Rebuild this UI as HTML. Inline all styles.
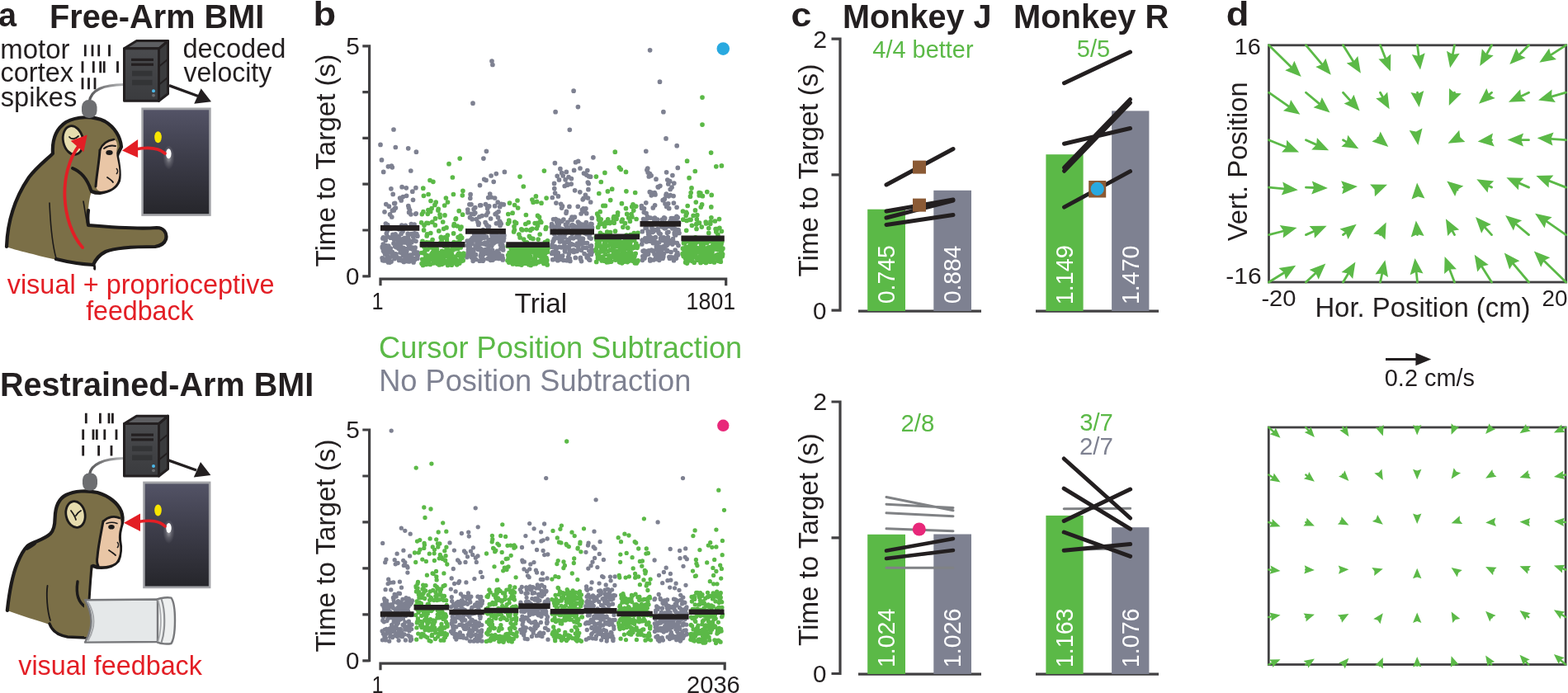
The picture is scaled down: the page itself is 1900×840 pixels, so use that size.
<!DOCTYPE html>
<html><head><meta charset="utf-8"><title>Figure</title>
<style>html,body{margin:0;padding:0;background:#fff;overflow:hidden}svg{display:block}text{font-family:"Liberation Sans",Arial,Helvetica,sans-serif}</style>
</head><body>
<svg width="1900" height="840" viewBox="0 0 1900 840">
<defs>
<linearGradient id="cfront" x1="0" y1="0" x2="0" y2="1"><stop offset="0" stop-color="#4a4b4e"/><stop offset="1" stop-color="#3a3b3e"/></linearGradient>
<linearGradient id="scr" x1="0" y1="0" x2="0" y2="1"><stop offset="0" stop-color="#535366"/><stop offset="0.45" stop-color="#3d3d4a"/><stop offset="1" stop-color="#26262b"/></linearGradient>
<linearGradient id="cable" x1="0" y1="0" x2="1" y2="0"><stop offset="0" stop-color="#59595b"/><stop offset="1" stop-color="#b5b6b8"/></linearGradient>
<radialGradient id="glow" cx="0.5" cy="0.45" r="0.5"><stop offset="0" stop-color="#ffffff" stop-opacity="0.55"/><stop offset="0.5" stop-color="#ffffff" stop-opacity="0.18"/><stop offset="1" stop-color="#ffffff" stop-opacity="0"/></radialGradient>
<linearGradient id="tube" x1="0" y1="0" x2="0" y2="1"><stop offset="0" stop-color="#eceded"/><stop offset="0.5" stop-color="#e4e6e7"/><stop offset="1" stop-color="#d4d6d8"/></linearGradient>
</defs>
<rect width="1900" height="840" fill="#fff"/>
<text x="-2.1" y="32.2" font-size="40" fill="#231f20" font-weight="bold" textLength="22.04" lengthAdjust="spacingAndGlyphs">a</text>
<text x="379.6" y="31.3" font-size="40" fill="#231f20" font-weight="bold" textLength="27.58" lengthAdjust="spacingAndGlyphs">b</text>
<text x="958.5" y="32" font-size="40" fill="#231f20" font-weight="bold" textLength="24.88" lengthAdjust="spacingAndGlyphs">c</text>
<text x="1485.8" y="30.5" font-size="40" fill="#231f20" font-weight="bold" textLength="27.70" lengthAdjust="spacingAndGlyphs">d</text>
<text x="0.3" y="70.7" font-size="33.5" fill="#231f20" textLength="84.18" lengthAdjust="spacingAndGlyphs">motor</text>
<text x="0.5" y="98.9" font-size="33.5" fill="#231f20" textLength="88.47" lengthAdjust="spacingAndGlyphs">cortex</text>
<text x="0.8" y="128.7" font-size="33.5" fill="#231f20" textLength="92.40" lengthAdjust="spacingAndGlyphs">spikes</text>
<text x="221.4" y="70.4" font-size="33" fill="#231f20" textLength="124.99" lengthAdjust="spacingAndGlyphs">decoded</text>
<text x="222.5" y="98.9" font-size="33" fill="#231f20" textLength="106.75" lengthAdjust="spacingAndGlyphs">velocity</text>
<text x="60" y="33.7" font-size="40" fill="#231f20" font-weight="bold" textLength="260.33" lengthAdjust="spacingAndGlyphs">Free-Arm BMI</text>
<path d="M103.3,54.2V68.3M112,54.2V68.3M119.7,54.2V68.3M132.5,54.2V68.3M100,74.2V88.3M113.3,74.2V88.3M121.7,74.2V88.3M126.2,74.2V88.3M142.5,74.2V88.3M100,94.2V108.3M107.5,94.2V108.3M115,94.2V108.3" stroke="#231f20" stroke-width="2.8" fill="none"/>
<path d="M108,124 C110,108 126,103 150,102.5" stroke="url(#cable)" stroke-width="3.2" fill="none"/>
<g transform="translate(150.5,58.8)"><path d="M42,0 L53,-9.3 L53,55.0 L42,63.5 Z" fill="#3a3b3d" stroke="#231f20" stroke-width="3" stroke-linejoin="round"/><path d="M0,0 L15,-9.3 L53,-9.3 L42,0 Z" fill="#5d5e61" stroke="#231f20" stroke-width="3" stroke-linejoin="round"/><rect x="0" y="0" width="42" height="63.5" fill="url(#cfront)" stroke="#231f20" stroke-width="3" stroke-linejoin="round"/><rect x="8.5" y="12" width="27" height="3.2" fill="#231f20"/><rect x="8.5" y="17.8" width="27" height="3.2" fill="#231f20"/><rect x="9.5" y="27" width="24.5" height="6.5" fill="#333436"/><rect x="9.5" y="38" width="24.5" height="6.5" fill="#333436"/><circle cx="35.5" cy="51.5" r="2" fill="#4cb8e8"/><circle cx="35.5" cy="56.8" r="1.9" fill="#6a6b6e"/><path d="M42,22 L53,13 M42,44 L53,35" stroke="#231f20" stroke-width="2"/></g>
<path d="M205,103.7 L240,116.5" stroke="#231f20" stroke-width="3.4"/>
<path d="M256,123.3 L235.2,125.7 L243.6,107.3 Z" fill="#231f20"/>
<rect x="171.3" y="130.5" width="84.4" height="131.4" fill="#a3a4a8"/>
<rect x="173.8" y="133.3" width="79.4" height="125.9" fill="url(#scr)"/>
<ellipse cx="191.5" cy="166.3" rx="4.3" ry="7" fill="#f7e500"/>
<ellipse cx="204.5" cy="192" rx="7" ry="15" fill="url(#glow)"/>
<ellipse cx="204.3" cy="186.3" rx="3.2" ry="6" fill="#ffffff"/>

<g>
<path d="M8,299 C9,270 18,240 35,215 C45,202 56,194 64,186 C63,170 68,156 80,148 C93,141 112,140 127,147 C139,154 146,166 147,178 C145,183 142,186 142,190 C144,200 146,210 144,219 C141,227 133,232 121,234 C116,234 113,233 111,232 C108,240 106,255 107,273 C130,275 165,278 190,276 C198,276 203,282 201,290 C199,296 194,298 188,299 C165,299 140,300 128,305 C120,309 116,314 113,321 C90,319 60,314 40,308 C28,305 15,302 8,299 Z" fill="#7b6f47"/>
<path d="M8,299 C9,270 18,240 35,215 C45,202 56,194 64,186 C63,170 68,156 80,148 C93,141 112,140 127,147 C139,154 146,166 147,178 C145,183 142,186 142,190 C144,200 146,210 144,219 C141,227 133,232 121,234 C116,234 113,233 111,232" fill="none" stroke="#1c1a1a" stroke-width="4.2" stroke-linecap="round" stroke-linejoin="round"/>
<path d="M107,255 C106,262 106,267 107,273 C130,275 165,278 190,276 C198,276 203,282 201,290 C199,296 194,298 188,299 C165,299 140,300 128,305 C120,309 116,314 113,321 C95,320 80,317 68,314" fill="none" stroke="#1c1a1a" stroke-width="4.2" stroke-linecap="round" stroke-linejoin="round"/>
<path d="M121,182 C124,174 131,170 138,169 C141,170 142,173 142,178 C141,183 141,188 142,192 C144,202 146,211 143,219 C140,227 133,231 122,232 C118,231 116,228 116,225 C117,212 120,198 121,182 Z" fill="#e9c6a6"/>
<path d="M121,182 C124,174 131,170 138,169" fill="none" stroke="#1c1a1a" stroke-width="2.6" stroke-linecap="round"/>
<path d="M121,182 C120,198 117,212 116,226" fill="none" stroke="#1c1a1a" stroke-width="3" stroke-linecap="round"/>
<path d="M126,180 C130,177 136,176 140,177" fill="none" stroke="#1c1a1a" stroke-width="2" stroke-linecap="round"/>
<ellipse cx="132.5" cy="185" rx="4.2" ry="3" fill="#1c1a1a"/>
<path d="M141,204 C143,206 143,209 141,211" fill="none" stroke="#1c1a1a" stroke-width="1.6"/>
<path d="M130,215 C133,217 136,219 137,221" fill="none" stroke="#1c1a1a" stroke-width="1.8" stroke-linecap="round"/>
<ellipse cx="88.5" cy="170" rx="12" ry="17.5" transform="rotate(-12 88.5 170)" fill="#e6dcae" stroke="#1c1a1a" stroke-width="2.8"/>
<path d="M84,166 C87,170 92,168 95,165" fill="none" stroke="#1c1a1a" stroke-width="1.8" stroke-linecap="round"/>
<path d="M88,204 C98,208 106,218 110,230" fill="none" stroke="#1c1a1a" stroke-width="4" stroke-linecap="round"/>
<path d="M60,246 C61,270 63,295 68,313" fill="none" stroke="#1c1a1a" stroke-width="1.6" stroke-linecap="round"/>
<path d="M101,244 C103,255 104,265 106,272" fill="none" stroke="#1c1a1a" stroke-width="1.6" stroke-linecap="round"/>
<path d="M114,321 C115,324 115,326 114,327" stroke="#1c1a1a" stroke-width="3" fill="none"/>
</g>

<rect x="99" y="121" width="18.5" height="22" rx="8.5" fill="#6d6e71"/>
<path d="M100,300 C74,270 70,210 96,176" fill="none" stroke="#e31e25" stroke-width="3.8" stroke-linecap="round"/>
<path d="M105.7,163.6 L85.7,170.7 L101.4,184.3 Z" fill="#e31e25"/>
<path d="M200,186 C192,179 180,178 164,181" fill="none" stroke="#e31e25" stroke-width="3.8" stroke-linecap="round"/>
<path d="M148,182.6 L167.1,168.9 L167.1,191 Z" fill="#e31e25"/>
<text x="8.7" y="355.8" font-size="32.5" fill="#e31e25" textLength="323.81" lengthAdjust="spacingAndGlyphs">visual + proprioceptive</text>
<text x="104.2" y="388" font-size="32.5" fill="#e31e25" textLength="130.44" lengthAdjust="spacingAndGlyphs">feedback</text>
<text x="-0.1" y="480" font-size="40" fill="#231f20" font-weight="bold" textLength="380.26" lengthAdjust="spacingAndGlyphs">Restrained-Arm BMI</text>
<path d="M104.3,500.7V513.2M121.4,500.7V513.2M132,500.7V513.2M136.4,500.7V513.2M100.7,520.4V532.9M113,520.4V532.9M117.3,520.4V532.9M126.8,520.4V532.9M141,520.4V532.9M100.7,540V552.5M119.6,540V552.5M135,540V552.5" stroke="#231f20" stroke-width="2.8" fill="none"/>
<path d="M108.5,575 C110,563 125,556 150,555.5" stroke="url(#cable)" stroke-width="3.2" fill="none"/>
<g transform="translate(150.5,513.5)"><path d="M42,0 L53,-9.3 L53,55.0 L42,63.5 Z" fill="#3a3b3d" stroke="#231f20" stroke-width="3" stroke-linejoin="round"/><path d="M0,0 L15,-9.3 L53,-9.3 L42,0 Z" fill="#5d5e61" stroke="#231f20" stroke-width="3" stroke-linejoin="round"/><rect x="0" y="0" width="42" height="63.5" fill="url(#cfront)" stroke="#231f20" stroke-width="3" stroke-linejoin="round"/><rect x="8.5" y="12" width="27" height="3.2" fill="#231f20"/><rect x="8.5" y="17.8" width="27" height="3.2" fill="#231f20"/><rect x="9.5" y="27" width="24.5" height="6.5" fill="#333436"/><rect x="9.5" y="38" width="24.5" height="6.5" fill="#333436"/><circle cx="35.5" cy="51.5" r="2" fill="#4cb8e8"/><circle cx="35.5" cy="56.8" r="1.9" fill="#6a6b6e"/><path d="M42,22 L53,13 M42,44 L53,35" stroke="#231f20" stroke-width="2"/></g>
<path d="M204,557.9 L238,570" stroke="#231f20" stroke-width="3.4"/>
<path d="M255.4,576 L234.8,578.5 L243,560 Z" fill="#231f20"/>
<rect x="173.2" y="583.6" width="82.2" height="129.6" fill="#a3a4a8"/>
<rect x="175.7" y="586.4" width="77.2" height="124.1" fill="url(#scr)"/>
<ellipse cx="191.5" cy="618.5" rx="4.3" ry="7" fill="#f7e500"/>
<ellipse cx="204.5" cy="645.5" rx="7" ry="15" fill="url(#glow)"/>
<ellipse cx="204.5" cy="640" rx="3.2" ry="6" fill="#ffffff"/>

<g>
<path d="M8.8,740 C11,720 14,700 20.8,683.3 C24,675 28,667 33.3,661.7 C37,659 41,657.5 45,656 C52,653 58,650 61,647 C65,643 66.5,637 66.6,628 C67,612 72,604 80,600 C90,595 105,594 118,597 C132,601 143,610 147,620 C149,626 149,630 148,634 C146,640 144,646 145,655 C147,665 146,673 143,680 C138,686 130,688 123,688 C118,688 115,687 113,686 C111,698 110,712 108,728 L105,773 C95,773 80,772 70,768 C64,765 61,760 60,757 C45,752 25,746 8.8,740 Z" fill="#7b6f47"/>
<path d="M8.8,740 C11,720 14,700 20.8,683.3 C24,675 28,667 33.3,661.7 C37,659 41,657.5 45,656 C52,653 58,650 61,647 C65,643 66.5,637 66.6,628 C67,612 72,604 80,600 C90,595 105,594 118,597 C132,601 143,610 147,620 C149,626 149,630 148,634 C146,640 144,646 145,655 C147,665 146,673 143,680 C138,686 130,688 123,688 C118,688 115,687 113,686" fill="none" stroke="#1c1a1a" stroke-width="4.2" stroke-linecap="round" stroke-linejoin="round"/>
<path d="M29,666 C32,661 36,658.5 40,657.5 C43,657 45,657.5 44,659.5 C42,662 38,664 33,667 Z" fill="#1c1a1a"/>
<path d="M111,686 C110,698 109,712 108,728" fill="none" stroke="#1c1a1a" stroke-width="3" stroke-linecap="round"/>
<path d="M60,756 C63,765 70,770 82,772 L104,773" fill="none" stroke="#1c1a1a" stroke-width="3.4" stroke-linecap="round"/>
<path d="M125,632 C123,645 120,660 118,672 C117,679 117,683 119,686 C126,687 134,686 140,682 C145,676 146,668 145,660 C143,652 144,645 146,638 C147,634 147,631 145,628 C139,625 131,626 125,632 Z" fill="#e9c6a6"/>
<path d="M125,632 C131,626 139,625 145,628" fill="none" stroke="#1c1a1a" stroke-width="2.6" stroke-linecap="round"/>
<path d="M125,632 C122,648 119,662 118,675 C117,680 118,684 119,686" fill="none" stroke="#1c1a1a" stroke-width="3" stroke-linecap="round"/>
<ellipse cx="135" cy="638.8" rx="3.8" ry="2.8" fill="#1c1a1a"/>
<path d="M129,634.5 C133,633 138,633 142,634.5" fill="none" stroke="#1c1a1a" stroke-width="1.6" stroke-linecap="round"/>
<path d="M142,657 C144,659 144,662 142,664" fill="none" stroke="#1c1a1a" stroke-width="1.6"/>
<path d="M132,667 C135,669 138,671 140,673" fill="none" stroke="#1c1a1a" stroke-width="1.8" stroke-linecap="round"/>
<ellipse cx="91.5" cy="623.5" rx="11.5" ry="16" transform="rotate(-12 91.5 623.5)" fill="#e6dcae" stroke="#1c1a1a" stroke-width="2.8"/>
<path d="M86,619 C89,623 91,626 92,630 M92,625 C94,622 96,620 98,619" fill="none" stroke="#1c1a1a" stroke-width="1.8" stroke-linecap="round"/>
<path d="M57.5,710 C56,720 57,740 61,752" fill="none" stroke="#1c1a1a" stroke-width="1.8" stroke-linecap="round"/>
<path d="M94,705 C92,718 94,730 104,736" fill="none" stroke="#1c1a1a" stroke-width="3.4" stroke-linecap="round"/>
</g>

<rect x="100" y="573.5" width="18" height="21" rx="8" fill="#6d6e71"/>
<rect x="102" y="729" width="14" height="43" fill="#7b6f47"/>
<path d="M103,727.2 L192,726.5 L192,778 L103,778.6 Q118,753 103,727.2 Z" fill="#e5e8e9" stroke="#77787b" stroke-width="2.4" stroke-linejoin="round"/>
<path d="M106.5,729.5 Q120.5,753 106.5,776.5" fill="none" stroke="#a7a9ac" stroke-width="2"/>
<path d="M191,726.2 C195,724.5 203,723.8 207.5,724.6 C213.5,733 213.5,771 207.5,780 C203,781 195,780.6 191,778.6 Z" fill="#eef0f0" stroke="#77787b" stroke-width="2.4" stroke-linejoin="round"/>
<path d="M195.5,726 C200.5,740 200.5,765 195.5,779" fill="none" stroke="#8e9093" stroke-width="2.2"/>
<path d="M191.5,727 C196,742 196,763 191.5,778" fill="none" stroke="#a7a9ac" stroke-width="1.6"/>
<path d="M200,638 C193,631 183,630 167,632.5" fill="none" stroke="#e31e25" stroke-width="3.6" stroke-linecap="round"/>
<path d="M150,633.7 L170,622.5 L170,644 Z" fill="#e31e25"/>
<text x="22.3" y="817.5" font-size="32.3" fill="#e31e25" textLength="222.60" lengthAdjust="spacingAndGlyphs">visual feedback</text>
<path d="M439.3,55.8H447.6V336.3M439.3,55.8H447.6M439.3,111.6H447.6M439.3,167.4H447.6M439.3,223.2H447.6M439.3,279H447.6M439.3,334.8H447.6" stroke="#414042" stroke-width="3.2" fill="none"/>
<path d="M461,346.2V338.2H879.7V346.2" stroke="#414042" stroke-width="3.2" fill="none"/>
<text x="419.2" y="65.7" font-size="29" fill="#231f20" textLength="16.63" lengthAdjust="spacingAndGlyphs">5</text>
<text x="419" y="345.2" font-size="29" fill="#231f20" textLength="16.45" lengthAdjust="spacingAndGlyphs">0</text>
<text transform="translate(406.2,323.6) rotate(-90)" font-size="33" fill="#231f20" textLength="257.82" lengthAdjust="spacingAndGlyphs">Time to Target (s)</text>
<text x="450.6" y="374.8" font-size="29" fill="#231f20" textLength="14.06" lengthAdjust="spacingAndGlyphs">1</text>
<text x="831.6" y="374.8" font-size="29" fill="#231f20" textLength="59.61" lengthAdjust="spacingAndGlyphs">1801</text>
<text x="623.6" y="378.8" font-size="33" fill="#231f20" textLength="63.61" lengthAdjust="spacingAndGlyphs">Trial</text>
<path d="M463.1 312.8h0M463.3 299.2h0M463.4 300.2h0M463.7 315.6h0M463.9 289h0M464.3 296h0M464.5 304.1h0M464.5 287.9h0M464.8 313.9h0M465 276.1h0M465.2 305h0M465.4 316h0M465.6 303h0M465.8 302.1h0M466 256.8h0M466.4 299.6h0M466.6 307.9h0M466.8 303.4h0M466.8 300.9h0M467.2 291.2h0M467.4 271.2h0M467.6 297.7h0M467.8 247.6h0M468 315.9h0M468.3 283.1h0M468.4 304.5h0M468.6 301.8h0M468.9 316h0M469 309.4h0M469.2 279.9h0M469.5 287h0M469.7 272.5h0M470 287h0M470.1 311.9h0M470.3 301h0M470.5 317.9h0M470.8 298.2h0M471 299.9h0M471.3 316.2h0M471.4 250.2h0M471.5 304h0M471.7 315.9h0M472 312.4h0M472.2 318.1h0M472.3 305.3h0M472.6 259.9h0M472.8 305.8h0M473.2 288.2h0M473.2 301.1h0M473.5 306h0M473.6 276.9h0M473.9 228.8h0M474.1 317.1h0M474.4 201.1h0M474.5 305.2h0M474.8 263h0M475.1 310.2h0M475.3 202.8h0M475.4 255.2h0M475.5 305.6h0M475.8 308.2h0M476 284.4h0M476.2 235.4h0M476.4 311.1h0M476.8 286.4h0M477 295.1h0M477.2 294.8h0M477.3 254.9h0M477.5 290.3h0M477.7 246.6h0M478 284.8h0M478.1 313.6h0M478.3 252.8h0M478.6 246.3h0M478.7 298.8h0M479.1 283.9h0M479.2 285.2h0M479.4 252h0M479.6 307.8h0M479.9 308.9h0M480.1 286.1h0M480.4 297.6h0M480.5 285.8h0M480.6 299.7h0M480.8 311.6h0M481.1 276.5h0M481.3 298.5h0M481.6 298.5h0M481.7 298.4h0M482 290.9h0M482.3 291.3h0M482.4 296.5h0M482.6 293.7h0M482.9 301.3h0M483.1 287.2h0M483.4 298.4h0M483.4 277.8h0M483.6 315.5h0M484 294.5h0M484.2 277.1h0M484.4 313h0M484.6 240h0M484.9 300.9h0M484.9 276.9h0M485.1 306.1h0M485.3 292.7h0M485.5 302.6h0M485.8 296.1h0M486.1 283.4h0M486.2 243h0M486.4 290.7h0M486.7 303.2h0M486.8 273.2h0M487.1 226.7h0M487.3 316h0M487.6 315.5h0M487.6 289.9h0M488 280.4h0M488.2 306.1h0M488.3 238.6h0M488.5 309.7h0M488.7 316.3h0M489 307.3h0M489.1 300.5h0M489.4 317.4h0M489.6 292.3h0M489.9 301.4h0M490 289.3h0M490.2 288.7h0M490.6 293.9h0M490.7 288.8h0M490.9 303.8h0M491 313.5h0M491.3 273.4h0M491.6 288.5h0M491.7 308.1h0M491.9 301.9h0M492.3 308.8h0M492.3 227.8h0M492.6 237.3h0M492.8 304.6h0M493 311h0M493.2 308.8h0M493.3 316.6h0M493.7 309.9h0M493.9 291.7h0M494.1 287.2h0M494.2 283.4h0M494.4 295.4h0M494.8 249.6h0M494.9 289.5h0M495.2 300.3h0M495.4 252h0M495.6 257.4h0M495.7 317h0M496.1 314.4h0M496.2 296h0M496.3 300.9h0M496.6 254.9h0M496.8 294.9h0M497 309.2h0M497.2 292.4h0M497.5 283.8h0M497.7 301.2h0M497.9 259.8h0M498.1 312.9h0M498.3 271.5h0M498.5 315.9h0M498.8 293.7h0M499 299.9h0M499.3 313.9h0M499.5 283.7h0M499.7 301.9h0M499.8 232.2h0M500 284.8h0M500.2 313.1h0M500.5 242.3h0M500.7 286.9h0M500.9 286.5h0M501.1 317.9h0M501.2 307.4h0M501.6 306.9h0M501.8 291.7h0M502 285.5h0M502.1 272.1h0M502.4 282.9h0M502.5 303h0M502.9 314.5h0M502.9 285.2h0M503.1 300.1h0M503.5 284.4h0M503.7 259.3h0M503.9 227.7h0M504 292.3h0M504.2 258.8h0M504.4 285.5h0M504.7 306h0M504.9 283.7h0M505.1 307.5h0M505.3 312.2h0M505.5 286.2h0M505.9 286.2h0M505.9 313.2h0M506.1 306h0M506.4 309h0M565.9 311.7h0M566.2 292h0M566.4 297.5h0M566.6 308.9h0M566.8 254.1h0M567 257.7h0M567.2 306.1h0M567.5 302.6h0M567.6 295.7h0M567.8 301.4h0M568.1 294.2h0M568.3 294.8h0M568.6 300.3h0M568.6 298.5h0M568.9 247.8h0M569.1 297.5h0M569.3 299.5h0M569.5 263.7h0M569.8 240.3h0M569.9 291.3h0M570.1 235.7h0M570.3 303.2h0M570.6 302.5h0M570.7 307.7h0M571 247.8h0M571.2 290h0M571.5 312.1h0M571.6 259.4h0M572 308.9h0M572.1 295.4h0M572.2 265.7h0M572.6 312.3h0M572.7 288.4h0M572.9 308h0M573.2 316.3h0M573.3 308.3h0M573.6 302.3h0M573.9 304.5h0M574.1 281.3h0M574.1 253.7h0M574.3 259.4h0M574.7 285.1h0M574.8 313h0M575 290.8h0M575.3 286.6h0M575.5 287h0M575.8 258.1h0M575.8 251.6h0M576.2 298.9h0M576.3 287.3h0M576.5 308.7h0M576.7 314.5h0M577 300.2h0M577.1 288h0M577.4 265.7h0M577.6 288.7h0M577.7 284.8h0M577.9 295.4h0M578.3 293.9h0M578.5 284.1h0M578.6 286.8h0M578.8 295.8h0M579.1 269.6h0M579.2 291h0M579.5 302.5h0M579.8 272.4h0M579.9 299.8h0M580.2 284.3h0M580.3 270.9h0M580.6 297.1h0M580.8 281.9h0M580.9 262.8h0M581.2 316.2h0M581.5 224.6h0M581.7 248.9h0M581.9 295.8h0M582 294h0M582.3 301.3h0M582.4 310.4h0M582.7 248.8h0M583 289.3h0M583.1 307.9h0M583.3 305.9h0M583.5 285.6h0M583.7 315.1h0M584.1 261.6h0M584.2 315.9h0M584.5 285.5h0M584.5 302.8h0M584.8 309.4h0M585.1 316.2h0M585.2 284.6h0M585.4 278.6h0M585.7 308.4h0M586 314.7h0M586.2 288.2h0M586.4 295.7h0M586.5 285.7h0M586.7 217.3h0M587 295h0M587.2 306.1h0M587.4 288h0M587.6 304.3h0M587.7 294.1h0M588.1 269.7h0M588.2 302.6h0M588.5 247.6h0M588.6 306.8h0M589 218.4h0M589.2 296.4h0M589.3 260.7h0M589.5 287.1h0M589.8 296.6h0M589.8 272.7h0M590.2 302.5h0M590.3 249.8h0M590.7 252.7h0M590.9 307.4h0M591.1 257.5h0M591.2 313.6h0M591.5 275.9h0M591.7 239.6h0M591.8 301.1h0M592.1 291.7h0M592.4 313.5h0M592.5 274.6h0M592.7 249.9h0M592.9 297h0M593.2 310.4h0M593.3 297.8h0M593.5 311.5h0M593.7 235.1h0M593.9 290.5h0M594.2 305h0M594.5 315.3h0M594.6 265h0M594.8 290.7h0M595.1 213h0M595.2 239h0M595.4 310.4h0M595.8 298h0M596 285.2h0M596.1 296.7h0M596.3 284.8h0M596.6 295.3h0M596.7 303.4h0M597.1 284.6h0M597.1 315.1h0M597.5 286.7h0M597.7 281.7h0M597.9 295.1h0M598.1 311.6h0M598.2 220.3h0M598.4 291.4h0M598.6 307.9h0M598.8 310.8h0M599 294.1h0M599.2 310h0M599.6 240h0M599.7 249.7h0M600 313.2h0M600.1 259.6h0M600.4 289.3h0M600.5 311.7h0M600.8 292.9h0M601 287.7h0M601.2 311.3h0M601.4 270.8h0M601.7 305.9h0M601.8 284.2h0M602 258.1h0M602.2 307h0M602.6 304.4h0M602.8 306.9h0M602.9 292.5h0M603.2 245.2h0M603.2 311.8h0M603.5 263.5h0M603.7 286.4h0M603.9 311.8h0M604.1 256.5h0M604.4 313.5h0M604.6 307.4h0M604.9 293.1h0M605 309.7h0M605.3 268h0M605.4 289.7h0M605.7 250.7h0M605.9 286.4h0M606 273.4h0M606.3 269.5h0M606.4 296.8h0M606.8 301.7h0M607 292.9h0M607.2 271.3h0M607.3 291.7h0M607.6 247.3h0M607.8 298.9h0M608 284.5h0M608.2 313h0M608.4 282.3h0M608.6 310h0M608.9 297.4h0M609.2 313h0M609.2 314.9h0M609.5 299.9h0M609.7 303h0M609.9 288h0M610.1 291.8h0M610.3 247.9h0M610.6 288.7h0M610.9 285.4h0M668.2 275h0M668.2 299.2h0M668.6 271.6h0M668.8 307.5h0M669 296.6h0M669.2 273.1h0M669.3 239.5h0M669.7 305.7h0M669.8 314.7h0M670.1 292.7h0M670.1 298.6h0M670.4 299.6h0M670.6 265.8h0M670.8 282.1h0M671.1 291h0M671.4 289.5h0M671.6 222.4h0M671.8 228.5h0M671.9 284h0M672.3 275.7h0M672.4 197.7h0M672.6 234.1h0M672.8 298.8h0M673 313.8h0M673.3 265.7h0M673.4 304.3h0M673.6 309.9h0M673.9 246.1h0M674 301.3h0M674.3 301.3h0M674.6 288.3h0M674.8 269.1h0M675 307.7h0M675.2 213.3h0M675.3 271.9h0M675.6 270.3h0M675.8 315.7h0M676 280.4h0M676.3 306.5h0M676.4 237.9h0M676.7 267h0M677 274.9h0M677.1 309.9h0M677.4 271.5h0M677.5 217.9h0M677.7 283.3h0M677.9 299.4h0M678.2 314.6h0M678.4 291.3h0M678.5 292.9h0M678.9 204.7h0M679.1 285.1h0M679.2 312.1h0M679.4 277.1h0M679.7 247.3h0M679.9 288.1h0M680.2 299.8h0M680.4 280h0M680.6 252.1h0M680.7 209.7h0M680.9 268.1h0M681.2 292.3h0M681.5 249.9h0M681.5 277.7h0M681.7 310h0M682 288.1h0M682.2 213h0M682.6 278.7h0M682.8 315.4h0M682.9 266h0M683.2 299.1h0M683.4 300.1h0M683.5 278.9h0M683.9 296.1h0M684 287.7h0M684.2 225.5h0M684.4 303.9h0M684.6 304.9h0M684.8 283.6h0M685.1 217.8h0M685.4 272.2h0M685.6 277.9h0M685.7 299.7h0M686 258.3h0M686.2 293.4h0M686.4 256.3h0M686.6 276.5h0M686.9 272.1h0M686.9 315.7h0M687.3 223h0M687.3 278.7h0M687.5 281.5h0M687.9 269.3h0M688 224.1h0M688.3 275.8h0M688.4 290.7h0M688.6 311.5h0M689 214.7h0M689.1 291.7h0M689.4 307.7h0M689.6 278.6h0M689.8 298.6h0M689.9 250.4h0M690.1 302.8h0M690.3 313.4h0M690.7 295.8h0M690.9 316.4h0M691.1 288.7h0M691.4 266h0M691.5 296.2h0M691.7 266.5h0M691.9 295.7h0M692.2 223.1h0M692.4 216.6h0M692.5 304.4h0M692.8 273.2h0M693 263h0M693.2 283.4h0M693.3 266.5h0M693.6 272.7h0M693.8 265.3h0M694 278.4h0M694.3 296.5h0M694.5 281.8h0M694.7 288.8h0M695 303.2h0M695.2 279.5h0M695.3 305.5h0M695.6 206.4h0M695.7 274.7h0M696 274.3h0M696.3 274h0M696.4 263.2h0M696.6 230.8h0M696.8 303.9h0M697.1 275.3h0M697.3 312.4h0M697.5 196.7h0M697.8 275.5h0M697.9 281.6h0M698.1 304.6h0M698.3 297.2h0M698.5 287.3h0M698.7 279.7h0M699.1 304.4h0M699.3 283.9h0M699.5 295h0M699.6 297.7h0M699.9 297.9h0M700.1 295.8h0M700.3 250.3h0M700.4 269h0M700.7 195.4h0M700.8 299.8h0M701.2 297.3h0M701.4 270.2h0M701.6 286.2h0M701.8 273.4h0M702 270.7h0M702.3 290.4h0M702.4 278.5h0M702.7 281.7h0M702.8 232.8h0M703.2 312.9h0M703.4 312.4h0M703.6 314.1h0M703.6 291.9h0M704 295.3h0M704.1 259h0M704.5 316.6h0M704.5 303.3h0M704.8 272.4h0M704.9 295.1h0M705.3 272h0M705.4 254.3h0M705.6 289.1h0M705.9 291.6h0M706 275.4h0M706.2 241.8h0M706.5 289.3h0M706.7 300.2h0M707 252.8h0M707.2 240.3h0M707.5 210.1h0M707.6 294.4h0M707.7 272.2h0M708.1 307.6h0M708.2 275.4h0M708.4 281.9h0M708.6 273.4h0M708.8 256.4h0M709.2 276.2h0M709.3 282.8h0M709.4 236.3h0M709.6 280.8h0M709.9 252.8h0M710.2 300.4h0M710.3 269.6h0M710.7 258.7h0M710.7 212.1h0M711 283.7h0M711.2 312.1h0M711.5 294.6h0M711.6 274h0M711.8 206.5h0M712.1 278h0M712.3 221h0M712.5 240h0M712.7 309.7h0M712.9 229.7h0M713.2 222.5h0M713.5 213.8h0M713.6 314.3h0M713.9 304.1h0M714 276.1h0M714.2 287.9h0M714.5 276.1h0M714.7 315.2h0M714.8 283.4h0M715.1 298.6h0M715.2 308.4h0M715.6 214.2h0M715.7 245h0M715.9 271.3h0M716.1 289.1h0M716.4 308.4h0M716.5 297.9h0M716.7 306.4h0M717 271.7h0M717.3 264.4h0M717.5 275.9h0M717.7 305h0M717.8 303.2h0M777.4 249.5h0M777.6 252.3h0M777.8 295.9h0M778.1 291.1h0M778.3 280.7h0M778.5 315.3h0M778.7 291.8h0M778.9 310.5h0M779.1 304.3h0M779.3 313.2h0M779.6 265.7h0M779.8 304.8h0M780.1 269.4h0M780.3 257.3h0M780.3 303.8h0M780.5 252.8h0M780.8 266.4h0M781 312.9h0M781.3 305.7h0M781.6 310.4h0M781.6 307.1h0M781.8 288.8h0M782.1 276.5h0M782.3 289.7h0M782.6 309h0M782.8 245.8h0M783 304.5h0M783.1 258.6h0M783.3 292.9h0M783.6 276h0M783.9 206.1h0M784 265.1h0M784.3 289h0M784.5 262.7h0M784.6 271.3h0M784.8 204h0M785.1 209h0M785.2 280.4h0M785.6 308.1h0M785.7 283.7h0M786 286.2h0M786.1 303.8h0M786.3 214h0M786.7 285.2h0M786.7 304.1h0M787 292.2h0M787.3 232.7h0M787.5 210.6h0M787.7 314.1h0M787.8 316h0M788.2 264.1h0M788.4 288h0M788.5 233.1h0M788.8 303.6h0M789 273.1h0M789.1 212.8h0M789.3 236.8h0M789.5 303h0M789.8 288.3h0M790 276.4h0M790.3 280.2h0M790.5 291h0M790.6 281.5h0M791 293.4h0M791.2 294.6h0M791.3 251.9h0M791.6 280.7h0M791.7 304.8h0M791.9 315h0M792.1 293.9h0M792.4 265.4h0M792.6 278.4h0M792.7 290.6h0M793 308.1h0M793.2 233.6h0M793.4 264.1h0M793.6 248.8h0M793.9 235.4h0M794 236h0M794.3 287.7h0M794.4 313.1h0M794.6 278.9h0M795 302.4h0M795 217.2h0M795.3 298.6h0M795.6 294.1h0M795.7 313.9h0M796 311.9h0M796.3 302.6h0M796.4 298.3h0M796.6 266.1h0M796.9 308.5h0M797 277.7h0M797.2 226.5h0M797.5 306.5h0M797.6 226.9h0M797.9 280.7h0M798.1 306.4h0M798.3 282.3h0M798.6 293.8h0M798.8 315.3h0M799 301h0M799.3 283.3h0M799.4 299.9h0M799.6 308.3h0M799.9 225.3h0M800.1 299.7h0M800.2 283.6h0M800.4 288.9h0M800.6 306.1h0M800.9 288.4h0M801.2 288h0M801.3 313.1h0M801.6 303.1h0M801.7 299.5h0M801.9 274.8h0M802.3 266.2h0M802.4 311.2h0M802.5 301.7h0M802.8 291.5h0M803.1 313.2h0M803.2 242.7h0M803.6 311.8h0M803.7 301.2h0M803.8 311.1h0M804.2 287.9h0M804.4 307.4h0M804.4 298.5h0M804.7 263.8h0M805 276.4h0M805.3 241.2h0M805.4 301.2h0M805.5 276.8h0M805.7 264.5h0M806 247.1h0M806.3 291.3h0M806.4 270.2h0M806.6 276.2h0M806.9 294.1h0M807 236.6h0M807.4 235.2h0M807.6 208.8h0M807.7 250.4h0M807.9 297.6h0M808.2 304.5h0M808.5 282.2h0M808.7 303.6h0M808.8 218h0M809 272.5h0M809.3 296.1h0M809.4 287.5h0M809.7 246.8h0M809.8 223h0M810 281.3h0M810.3 237.8h0M810.6 274.1h0M810.7 252.7h0M810.9 311.5h0M811.1 273.4h0M811.4 313.2h0M811.6 291.7h0M811.7 219.7h0M812 268h0M812.2 229.5h0M812.3 236.7h0M812.6 271.6h0M812.9 294.2h0M813 305.6h0M813.3 264.5h0M813.4 266.9h0M813.8 293.3h0M813.9 311.9h0M814.1 227h0M814.4 276.2h0M814.7 268.7h0M814.8 296.1h0M814.9 212.6h0M815.1 276.9h0M815.5 289.6h0M815.7 264.6h0M815.8 273.5h0M816.1 237.6h0M816.4 246.1h0M816.5 315.7h0M816.8 222.1h0M816.9 265.9h0M817.2 282.4h0M817.3 284h0M817.6 294h0M817.7 311.9h0M818 277.7h0M818.2 303h0M818.5 284h0M818.7 284.9h0M818.9 278h0M819.1 271.1h0M819.3 265.3h0M819.5 313.1h0M819.7 309.2h0M819.9 262.4h0M820.1 251.3h0M820.4 294.5h0M820.5 308.1h0M820.7 306.4h0M821 306.9h0M821.2 263.7h0M821.3 203.4h0M821.5 309h0M821.9 278.6h0M822 297.6h0M822.2 279.2h0M822.5 269.7h0M822.7 270.5h0M823 282.5h0M477 157h0M461 175.4h0M462.5 193.9h0M470.4 201.8h0M479.3 178.5h0M494.7 179.8h0M504.4 184.2h0M497.8 207h0M464.7 208.4h0M573 125.2h0M596 74h0M596.9 78.5h0M589.4 183.3h0M585.9 192.1h0M601.3 210.6h0M611.4 208.4h0M673.1 135.7h0M695.1 110.2h0M700.4 129.6h0M690.3 157.3h0M718.9 190.8h0M703 204h0M686.3 208.4h0M787.6 60.8h0M799.5 99.2h0M803.9 135.7h0M807 167.9h0M782.8 183.3h0M820.2 176.7h0" stroke="#7e8191" stroke-width="5.7" stroke-linecap="round" fill="none"/>
<path d="M510.6 269.9h0M510.8 306.5h0M511 319.6h0M511.3 259.6h0M511.4 296.9h0M511.7 314.3h0M512 294.3h0M512 292.3h0M512.3 295.9h0M512.5 321.4h0M512.8 228.2h0M512.9 256.7h0M513.2 306.5h0M513.4 237.3h0M513.6 278.9h0M513.8 299.1h0M514 273.1h0M514.3 314.2h0M514.4 318.2h0M514.7 304.8h0M514.8 304.3h0M515.2 308.3h0M515.3 296.3h0M515.7 314.4h0M515.7 312.7h0M516 302.2h0M516.3 302.4h0M516.4 320.4h0M516.6 302h0M516.9 270.3h0M517 293.8h0M517.2 285.9h0M517.6 283.9h0M517.7 316.1h0M518 302.5h0M518.1 310.2h0M518.3 259.3h0M518.7 310.2h0M518.9 270.5h0M518.9 254.5h0M519.1 235.5h0M519.4 310.6h0M519.6 316.6h0M520 311.4h0M520 294h0M520.4 298h0M520.5 320h0M520.7 295.2h0M520.9 295.9h0M521.2 298.3h0M521.3 320.4h0M521.7 256.5h0M521.8 282.5h0M522 243.5h0M522.2 312.4h0M522.6 299.9h0M522.6 294.6h0M523 307.9h0M523.1 252.7h0M523.4 307.4h0M523.6 298.6h0M523.8 269.2h0M523.9 312.3h0M524.1 290.5h0M524.3 314.4h0M524.6 305.7h0M524.9 220.3h0M525 319h0M525.3 301.2h0M525.5 309.5h0M525.8 300.1h0M526 318h0M526.1 305.3h0M526.3 315.7h0M526.6 317h0M526.8 312.1h0M526.9 248.4h0M527.3 272.9h0M527.5 307.9h0M527.5 264.9h0M527.8 318h0M528.2 245.2h0M528.3 296.8h0M528.6 299.3h0M528.7 304.4h0M528.9 310.9h0M529.2 314.2h0M529.3 315.6h0M529.5 302.1h0M529.9 315.6h0M529.9 319.6h0M530.3 305.8h0M530.5 316.7h0M530.6 313.3h0M530.9 254.9h0M531.2 309.6h0M531.2 253.4h0M531.4 315.6h0M531.8 279.9h0M531.9 296.3h0M532.2 321h0M532.3 295.5h0M532.6 310.9h0M532.8 313.3h0M533 260h0M533.2 263.3h0M533.6 294.6h0M533.8 319.9h0M533.9 295.7h0M534.2 288h0M534.4 309.9h0M534.5 287.3h0M534.7 306.7h0M535 314.4h0M535.2 291.7h0M535.5 320.3h0M535.6 304.3h0M535.8 312.7h0M536.1 309.3h0M536.2 308.9h0M536.4 307.5h0M536.7 269h0M536.8 307.9h0M537 309.2h0M537.2 306.9h0M537.6 319.1h0M537.7 277.3h0M538.1 310.7h0M538.3 297h0M538.3 298.2h0M538.7 249h0M538.9 287.9h0M539 260.9h0M539.4 316.9h0M539.4 298.2h0M539.6 295.2h0M539.9 307h0M540.1 316.2h0M540.4 240h0M540.5 299.1h0M540.8 303.3h0M541 275.9h0M541.3 289.7h0M541.5 310.2h0M541.7 293.2h0M541.8 299.6h0M542 300.2h0M542.3 285.2h0M542.5 245h0M542.6 321.4h0M542.9 303.9h0M543.1 295.9h0M543.3 302.8h0M543.5 311.3h0M543.8 315h0M544 315.6h0M544.3 317.6h0M544.4 317.2h0M544.7 296.6h0M544.8 313.9h0M545.1 305.4h0M545.4 308.8h0M545.6 314.3h0M545.7 306.3h0M546 319.7h0M546.3 305.7h0M546.4 315.7h0M546.7 303.2h0M546.8 312.6h0M547.1 296.1h0M547.3 321.2h0M547.5 308.2h0M547.6 315h0M547.9 320.3h0M548.2 301.6h0M548.3 313.8h0M548.5 299h0M548.9 303.1h0M548.9 296.4h0M549.2 314.7h0M549.4 235.5h0M549.6 282.9h0M549.9 273.6h0M550 293.5h0M550.3 271.5h0M550.5 300.8h0M550.7 315.4h0M550.8 295.5h0M551.2 318.4h0M551.2 317.4h0M551.6 301.7h0M551.7 300.4h0M552.1 311.1h0M552.1 265.6h0M552.5 264.9h0M552.6 315.6h0M552.9 297.3h0M553.1 297.9h0M553.2 318.6h0M553.5 315.6h0M553.7 320.8h0M553.9 301h0M554.1 294h0M554.3 274h0M554.6 309h0M554.8 301.4h0M554.9 296.9h0M555.1 287.7h0M555.5 299.7h0M555.7 307.4h0M555.9 287.3h0M556 297.7h0M556.2 255.7h0M556.4 307.2h0M556.8 319.1h0M557 299h0M557.1 310h0M557.5 290.3h0M557.5 315.5h0M557.8 277.6h0M558 285.8h0M558.3 299.9h0M558.4 311.5h0M558.7 297.4h0M558.9 316.6h0M559 275.2h0M559.3 296.2h0M559.6 312.8h0M559.7 288.2h0M560 312.1h0M560.1 312.1h0M560.3 236.8h0M560.6 260.2h0M560.9 231.3h0M561.1 315.8h0M561.2 315.5h0M561.5 310.1h0M561.7 307.2h0M615 315.8h0M615.3 298.4h0M615.5 271.1h0M615.7 309.3h0M615.8 259.5h0M616.1 312.9h0M616.3 311.3h0M616.6 318.1h0M616.8 267.1h0M617 268.9h0M617.1 306.4h0M617.4 315h0M617.5 246.1h0M617.9 311.2h0M618 314.3h0M618.3 307.5h0M618.4 315.1h0M618.6 317.9h0M618.8 314.5h0M619 315.7h0M619.3 301.7h0M619.4 306.2h0M619.7 310.6h0M619.9 310.4h0M620.2 316.2h0M620.3 307.7h0M620.5 301.2h0M620.8 309.9h0M621.1 258.2h0M621.3 319.8h0M621.4 320h0M621.6 304.2h0M621.9 298.9h0M622.1 313.5h0M622.4 307h0M622.6 280.9h0M622.7 303.6h0M623 274.6h0M623 301h0M623.4 278.7h0M623.6 248.5h0M623.8 269.2h0M624 310.8h0M624.2 314.5h0M624.4 312.4h0M624.7 270h0M624.8 317.1h0M625.1 307.9h0M625.3 299.8h0M625.6 270.4h0M625.8 311.4h0M626 320.3h0M626.2 299.8h0M626.4 298h0M626.6 305.3h0M626.8 307.5h0M627 243h0M627.2 312.6h0M627.5 308h0M627.6 252h0M627.8 298.1h0M628 302.3h0M628.4 298.5h0M628.6 318.8h0M628.8 302.2h0M628.9 284.1h0M629.2 309.4h0M629.4 317.1h0M629.7 313.1h0M629.8 320.4h0M630.1 287.9h0M630.3 314.3h0M630.4 305.8h0M630.6 308.4h0M631 309h0M631 311.8h0M631.2 303.6h0M631.5 317.4h0M631.8 277.8h0M632 321.1h0M632.1 304.6h0M632.3 315.2h0M632.6 278.8h0M632.7 312.4h0M633.1 278.8h0M633.2 306.9h0M633.5 299.6h0M633.7 300.3h0M634 307.3h0M634 299.2h0M634.2 304.6h0M634.5 300.9h0M634.7 290h0M635 317h0M635.1 308.2h0M635.4 312.4h0M635.7 318.5h0M635.7 315.7h0M635.9 315.8h0M636.2 313.4h0M636.4 319.2h0M636.7 293.8h0M636.8 271.5h0M637.1 304.5h0M637.4 260.5h0M637.5 316.1h0M637.7 304.9h0M637.9 278.6h0M638.1 307.2h0M638.4 293.9h0M638.7 315.1h0M638.8 306h0M638.9 312.3h0M639.2 301.5h0M639.5 318.9h0M639.6 309.7h0M639.8 314.1h0M640 304.6h0M640.4 300.1h0M640.4 269.6h0M640.8 320.7h0M640.9 313.2h0M641.1 305h0M641.4 286.4h0M641.7 318.7h0M641.7 304.7h0M642 317.6h0M642.1 312.5h0M642.4 306.4h0M642.7 279.2h0M642.9 311.2h0M643.2 321.4h0M643.2 288.5h0M643.4 278h0M643.8 318.8h0M644 300h0M644.1 305.1h0M644.3 302h0M644.6 299.2h0M644.9 242.1h0M645 277.3h0M645.2 305h0M645.4 299.7h0M645.7 296.5h0M645.9 289.4h0M646.1 245.2h0M646.3 320h0M646.5 316.7h0M646.8 304.8h0M647 315.7h0M647.1 299.5h0M647.3 300.7h0M647.7 313.6h0M647.7 303.6h0M648 307.4h0M648.2 270.6h0M648.4 313h0M648.6 314.8h0M648.8 310.9h0M649.1 310.4h0M649.2 319.7h0M649.4 237.9h0M649.8 298.4h0M649.9 310h0M650.1 308.7h0M650.4 276.8h0M650.5 244.4h0M650.7 318.2h0M651 270.3h0M651.3 306.5h0M651.5 261.4h0M651.6 273.5h0M651.8 302.1h0M652.1 308.5h0M652.2 290.1h0M652.6 306.7h0M652.8 300.2h0M652.9 309.7h0M653.1 307.8h0M653.4 317.6h0M653.5 263.2h0M653.9 316.9h0M654.1 301.7h0M654.2 284h0M654.4 309.3h0M654.7 311.1h0M654.8 268.2h0M655.1 311h0M655.2 316.8h0M655.6 310.6h0M655.8 269.5h0M656 246.2h0M656.2 305.6h0M656.5 308h0M656.6 306.2h0M656.7 300.7h0M657 305.5h0M657.2 305.9h0M657.5 311.6h0M657.6 312.1h0M657.9 300.6h0M658.1 301.2h0M658.3 309h0M658.5 308.4h0M658.7 318.8h0M658.9 319.5h0M659.3 311.1h0M659.4 304.7h0M659.7 298.2h0M659.8 302h0M660 298.9h0M660.3 293.5h0M660.4 315.9h0M660.6 307.5h0M660.9 304.8h0M661.2 277.5h0M661.4 299.9h0M661.5 303.9h0M661.8 275.6h0M662 312.7h0M662.1 240.1h0M662.4 319.1h0M662.7 294.3h0M662.8 315.4h0M663.1 301.8h0M663.2 320.9h0M663.5 291.9h0M663.7 305.3h0M663.9 300.9h0M722.1 304.1h0M722.3 287.6h0M722.6 301.9h0M722.7 317.4h0M722.9 290.7h0M723.3 299.1h0M723.4 295.7h0M723.7 259.2h0M723.7 307.4h0M724.1 297.9h0M724.2 309.2h0M724.4 312.8h0M724.7 275.4h0M725 262.3h0M725.2 313.4h0M725.3 266h0M725.5 309h0M725.8 234.5h0M726.1 295.1h0M726.3 267.3h0M726.4 272h0M726.7 266.1h0M726.9 291.3h0M727.2 256.7h0M727.4 282.4h0M727.5 313.4h0M727.8 304.9h0M727.9 298.6h0M728.2 265.8h0M728.3 220.5h0M728.6 300.2h0M728.9 301.9h0M729 290h0M729.3 316h0M729.4 301.6h0M729.6 313h0M729.8 271.2h0M730.1 311.3h0M730.4 300h0M730.4 299.4h0M730.7 284.5h0M730.9 249.4h0M731.2 271.4h0M731.5 304.7h0M731.5 290.5h0M731.8 285.2h0M732.1 314.1h0M732.2 295.7h0M732.5 316.2h0M732.6 274.4h0M732.9 209.4h0M733.1 301.1h0M733.4 249.4h0M733.5 308.3h0M733.7 292.9h0M733.9 290.9h0M734.2 269.2h0M734.5 297.4h0M734.5 297.4h0M734.9 315.2h0M735.1 285.7h0M735.2 317.8h0M735.4 270.5h0M735.7 281.2h0M735.9 290.8h0M736.1 269.4h0M736.4 231.9h0M736.6 314.5h0M736.7 265.8h0M737.1 304.2h0M737.1 297.8h0M737.4 317.6h0M737.7 291.1h0M737.9 310.2h0M738 309.9h0M738.3 311.6h0M738.4 291.2h0M738.7 292.8h0M739 270.6h0M739.2 314.8h0M739.4 303h0M739.5 281.7h0M739.7 242.6h0M740.1 311.6h0M740.2 295.2h0M740.4 291.9h0M740.7 317.1h0M740.8 269.4h0M741 286.7h0M741.3 291.1h0M741.5 296.7h0M741.7 229.2h0M741.9 295.8h0M742.2 293.9h0M742.5 299.8h0M742.5 309.3h0M742.9 304.6h0M743 302.4h0M743.3 311.2h0M743.4 264.4h0M743.7 297.3h0M743.9 262.6h0M744.2 270.2h0M744.4 298.7h0M744.4 311.2h0M744.7 295.3h0M744.9 312.7h0M745.2 290.9h0M745.3 298.9h0M745.5 280.2h0M745.8 315.1h0M746 306.2h0M746.3 288.9h0M746.5 312.7h0M746.7 309.6h0M746.8 296.2h0M747.1 265.3h0M747.2 296.6h0M747.4 306.9h0M747.8 298.2h0M748 304.3h0M748.3 294h0M748.4 260.7h0M748.6 257.8h0M748.9 306h0M749 306h0M749.2 307.5h0M749.5 297.8h0M749.7 313.4h0M749.9 311.5h0M750.2 290.9h0M750.4 203.1h0M750.5 317.4h0M750.8 294.1h0M751 311.5h0M751.3 300.8h0M751.4 317.9h0M751.7 293.1h0M751.8 316.2h0M752.1 296.6h0M752.3 205.3h0M752.4 295.3h0M752.7 302.8h0M752.8 311.9h0M753.2 268.4h0M753.4 246.7h0M753.7 295.6h0M753.7 318.8h0M753.9 308.2h0M754.2 266h0M754.4 293.4h0M754.7 309.8h0M754.9 275.3h0M755.2 312.1h0M755.3 316.2h0M755.5 313.4h0M755.8 300.7h0M756 317.2h0M756.1 305.5h0M756.3 298.5h0M756.6 299.1h0M756.8 292.8h0M757.1 312.3h0M757.3 307.8h0M757.5 270.7h0M757.8 316.5h0M757.8 289h0M758 292.2h0M758.3 292.2h0M758.5 252.7h0M758.7 297.2h0M758.9 231.8h0M759.2 285.2h0M759.5 296.3h0M759.7 259.4h0M759.8 295.3h0M760.1 301.9h0M760.3 317.6h0M760.4 307.7h0M760.8 289.4h0M760.8 276.1h0M761.1 313.2h0M761.3 290.8h0M761.6 316.4h0M761.7 264.1h0M762 310.4h0M762.3 301.6h0M762.3 289.9h0M762.7 299.1h0M762.8 306h0M763.2 300.4h0M763.4 296.1h0M763.4 268.2h0M763.7 294.5h0M764 284.6h0M764.1 298.7h0M764.3 309.1h0M764.7 306.3h0M764.8 292.1h0M765.1 259.6h0M765.2 311.9h0M765.5 312.5h0M765.7 250.6h0M765.9 262.9h0M766.1 316.1h0M766.3 301h0M766.4 291.2h0M766.7 300.3h0M767 247.8h0M767.1 291.1h0M767.5 310.8h0M767.6 311.6h0M767.8 255.1h0M768.1 299.1h0M768.2 282.5h0M768.4 299.1h0M768.7 291.2h0M768.9 300.1h0M769 310.4h0M769.3 318.8h0M769.5 315.9h0M769.7 233.5h0M769.9 284.7h0M770.2 307.3h0M770.3 298h0M770.7 250.1h0M770.8 295.1h0M771.1 265.5h0M771.2 318.9h0M771.5 285.3h0M771.6 300h0M772 316.4h0M772.1 300.3h0M772.2 317.3h0M772.6 286.2h0M772.7 298.2h0M772.9 282.4h0M773.1 315.9h0M827.1 307.7h0M827.4 301.2h0M827.5 256h0M827.8 266.2h0M828.1 310.2h0M828.1 308.5h0M828.5 294.7h0M828.6 310.7h0M828.9 309.6h0M829.1 304.9h0M829.2 306.4h0M829.5 302.7h0M829.7 309.4h0M829.9 294.3h0M830.2 310.5h0M830.2 300.5h0M830.6 318.1h0M830.7 313.4h0M831 299.3h0M831.2 261.2h0M831.5 257.4h0M831.7 314.4h0M831.7 279.3h0M832.1 267.4h0M832.2 258.6h0M832.5 319.1h0M832.6 316.6h0M832.9 302.7h0M833.2 249.5h0M833.3 308.8h0M833.7 292.5h0M833.7 314.8h0M834 309.9h0M834.2 304.9h0M834.5 307.5h0M834.7 307.1h0M834.8 310.3h0M835.1 215.7h0M835.2 315.8h0M835.4 300.5h0M835.7 266.4h0M835.9 297.5h0M836.2 303.8h0M836.4 293h0M836.5 238.2h0M836.9 312.2h0M837.1 266.3h0M837.2 233.5h0M837.4 312.4h0M837.6 295.8h0M837.8 294h0M838 227.9h0M838.4 273.3h0M838.6 307.8h0M838.6 298.1h0M839 316.6h0M839.1 299.5h0M839.3 301.6h0M839.5 299.6h0M839.8 312h0M840.1 261.3h0M840.3 303.8h0M840.5 307h0M840.6 293.2h0M840.8 298.8h0M841.2 318.2h0M841.2 299.1h0M841.5 309.2h0M841.7 290.8h0M842 296h0M842.1 306.8h0M842.3 299.4h0M842.5 254.9h0M842.7 287.9h0M842.9 310.4h0M843.3 245.1h0M843.4 294.3h0M843.8 272h0M843.9 271.4h0M844 277.5h0M844.3 265.8h0M844.5 313.3h0M844.8 260.7h0M845 300.7h0M845.1 315.1h0M845.3 306h0M845.6 304.3h0M845.9 315.2h0M846.1 293h0M846.3 303.5h0M846.4 304.5h0M846.6 314h0M846.9 302.2h0M847.1 233.7h0M847.3 237h0M847.5 270.2h0M847.8 311.4h0M847.9 292.6h0M848.1 304.3h0M848.5 316.4h0M848.7 300.6h0M848.9 234.2h0M849 318.4h0M849.3 251.1h0M849.5 308.1h0M849.6 296.7h0M850 314.7h0M850.1 293.7h0M850.3 275.1h0M850.6 247.9h0M850.9 296.6h0M850.9 298.9h0M851.2 309.6h0M851.4 237.7h0M851.6 299.5h0M851.8 294.6h0M852 315.3h0M852.2 297.4h0M852.5 303.7h0M852.6 304.6h0M852.8 307.9h0M853.2 313h0M853.3 317.2h0M853.6 310.4h0M853.8 301h0M854.1 305.7h0M854.1 314.7h0M854.3 310.5h0M854.6 307.9h0M854.8 293.6h0M855 311.2h0M855.2 269h0M855.4 318.5h0M855.6 270.9h0M855.9 318.1h0M856.2 316.9h0M856.3 305.5h0M856.6 307.6h0M856.7 294.6h0M856.9 308.6h0M857.3 300.6h0M857.4 312.3h0M857.7 308.6h0M857.7 315.4h0M858.1 292.1h0M858.3 305.7h0M858.5 301h0M858.8 282.4h0M858.8 276.5h0M859.2 316.2h0M859.4 303.6h0M859.6 299.8h0M859.7 310.7h0M860 299.6h0M860.2 309.5h0M860.4 292.4h0M860.7 317.2h0M860.8 271.2h0M861 268.6h0M861.2 301h0M861.6 309.9h0M861.8 250.9h0M861.9 263.8h0M862.2 236.4h0M862.4 314.3h0M862.5 310.3h0M862.7 303.3h0M863 305.7h0M863.1 301.2h0M863.5 312h0M863.6 297.9h0M863.9 293.9h0M864.1 311.6h0M864.3 296.9h0M864.5 313.8h0M864.7 311.2h0M864.9 299.3h0M865.2 297.8h0M865.4 302h0M865.5 318h0M865.8 292.9h0M866.1 292.8h0M866.1 310.3h0M866.4 268h0M866.6 312.2h0M866.9 294.8h0M867.1 277.6h0M867.2 292.6h0M867.6 311.9h0M867.8 281.1h0M867.9 278h0M868.1 279.7h0M868.3 277.6h0M868.5 312.6h0M868.7 309.2h0M869 298.5h0M869.2 302.3h0M869.5 300.9h0M869.7 314.1h0M869.9 284.3h0M870 310.8h0M870.3 301.8h0M870.5 316.3h0M870.7 308.1h0M871.1 288.1h0M871.1 295.8h0M871.3 309.2h0M871.5 265.6h0M871.9 276.3h0M872 309.1h0M872.3 298h0M872.5 308.9h0M872.7 312.5h0M872.8 292h0M873 313.8h0M873.3 317.2h0M873.5 305.6h0M873.8 305.3h0M874 305.5h0M874.1 295.7h0M874.4 280.3h0M874.6 304h0M874.8 293.1h0M875 301.4h0M875.3 310.6h0M875.6 308.1h0M875.6 308.5h0M875.9 301.2h0M521 218.5h0M544 198.7h0M557.2 192.1h0M548.4 215h0M630 214.1h0M659.4 207.1h0M634.3 226h0M745.3 184.2h0M722.4 214.1h0M758.5 208.4h0M851 118.1h0M851 151.1h0M861.6 185.1h0M867.8 201.8h0M874.4 200.9h0M832.6 195.2h0M842.3 207.5h0M856.8 232.6h0" stroke="#5bb947" stroke-width="5.7" stroke-linecap="round" fill="none"/>
<path d="M461,276.4H508.3M508.7,296.4H563.6M564,280.4H612.9M613.3,296.6H665.9M666.5,281H720M720.3,286.8H775M775.5,271.4H825M825.4,289H877.8" stroke="#231f20" stroke-width="6.8" fill="none"/>
<circle cx="876.3" cy="59.1" r="7.8" fill="#29a9e0"/>
<text x="459.1" y="433.7" font-size="36" fill="#5bb947" textLength="440.06" lengthAdjust="spacingAndGlyphs">Cursor Position Subtraction</text>
<text x="459.2" y="474.4" font-size="36" fill="#7e8191" textLength="378.16" lengthAdjust="spacingAndGlyphs">No Position Subtraction</text>
<path d="M439.3,521H447.6V802.3M439.3,521H447.6M439.3,577H447.6M439.3,632.9H447.6M439.3,688.9H447.6M439.3,744.8H447.6M439.3,800.8H447.6" stroke="#414042" stroke-width="3.2" fill="none"/>
<path d="M461,812.2V804.2H878.2V812.2" stroke="#414042" stroke-width="3.2" fill="none"/>
<text x="419.2" y="530.9" font-size="29" fill="#231f20" textLength="16.63" lengthAdjust="spacingAndGlyphs">5</text>
<text x="419" y="811.2" font-size="29" fill="#231f20" textLength="16.45" lengthAdjust="spacingAndGlyphs">0</text>
<text transform="translate(406.2,790.4) rotate(-90)" font-size="33" fill="#231f20" textLength="257.82" lengthAdjust="spacingAndGlyphs">Time to Target (s)</text>
<text x="450.6" y="839.7" font-size="29" fill="#231f20" textLength="14.06" lengthAdjust="spacingAndGlyphs">1</text>
<text x="832.1" y="839.7" font-size="29" fill="#231f20" textLength="64.71" lengthAdjust="spacingAndGlyphs">2036</text>
<path d="M463.1 764.9h0M463.3 733.1h0M463.4 775.8h0M463.7 658.4h0M463.8 752.2h0M464.1 743h0M464.1 743h0M464.4 768.2h0M464.5 748h0M464.7 744.5h0M465 741.2h0M465.1 735.8h0M465.4 753.8h0M465.5 737.3h0M465.7 725.7h0M465.9 771.6h0M466.1 727.6h0M466.3 763.1h0M466.4 733.3h0M466.6 730h0M466.8 740.7h0M467.1 714.7h0M467.1 775.9h0M467.4 773.5h0M467.5 768.8h0M467.8 728.4h0M467.9 678.2h0M468.2 762.4h0M468.2 738.4h0M468.5 728.1h0M468.6 731.5h0M468.9 752.6h0M469.1 766.8h0M469.3 737.7h0M469.4 740.3h0M469.7 765.7h0M469.8 750.2h0M470 737.2h0M470.1 707.6h0M470.3 738.4h0M470.4 749.4h0M470.7 702.2h0M470.9 766.8h0M471 734.1h0M471.2 743.5h0M471.4 746.5h0M471.7 777.2h0M471.8 733.1h0M471.9 744h0M472.2 761.8h0M472.4 741.2h0M472.6 741.5h0M472.7 771.9h0M472.9 769.4h0M473 706.1h0M473.2 746.6h0M473.5 748.7h0M473.6 732.8h0M473.8 714.9h0M474 747h0M474.2 735.8h0M474.4 765.2h0M474.6 757.5h0M474.8 743.1h0M475 748h0M475.2 732.7h0M475.2 764.1h0M475.5 772.7h0M475.7 761.3h0M475.9 735.4h0M476 765.4h0M476.3 771.5h0M476.4 724.4h0M476.6 737.1h0M476.8 705.9h0M477 726.9h0M477.2 754.1h0M477.3 752h0M477.5 729.9h0M477.7 747.5h0M477.9 764.3h0M478.1 720.4h0M478.2 678.7h0M478.5 743.7h0M478.6 770.3h0M478.8 738.6h0M479.1 742.4h0M479.2 753.8h0M479.3 759.4h0M479.6 762h0M479.8 748.3h0M479.9 738.4h0M480.2 723h0M480.3 767.7h0M480.4 755.2h0M480.8 761.3h0M480.8 754.2h0M481.1 671.2h0M481.3 756.4h0M481.4 771.5h0M481.6 730.8h0M481.8 736.7h0M482 749.7h0M482.1 682.5h0M482.3 755.2h0M482.5 728.6h0M482.7 739.5h0M482.9 719.1h0M483.1 776.3h0M483.2 752.1h0M483.4 765.5h0M483.7 767h0M483.8 733.6h0M484.1 764.5h0M484.1 737.8h0M484.4 705.2h0M484.5 719.5h0M484.8 746.1h0M484.9 750.9h0M485.2 762.3h0M485.4 762.7h0M485.5 734.7h0M485.7 771.2h0M485.9 739h0M486 729.8h0M486.3 640.2h0M486.5 712.2h0M486.7 766.5h0M486.8 734.3h0M486.9 731.4h0M487.1 744.5h0M487.3 739.4h0M487.5 771.7h0M487.7 740.8h0M487.9 726.3h0M488.1 757.4h0M488.3 742.7h0M488.4 749.9h0M488.7 679.3h0M488.9 667.2h0M489.1 737.8h0M489.3 685.4h0M489.4 735.4h0M489.6 757.7h0M489.8 732.4h0M490 769h0M490.1 759.4h0M490.3 739.2h0M490.6 759.8h0M490.7 763.1h0M490.9 754.1h0M491 731.5h0M491.2 726.2h0M491.4 776h0M491.6 746.4h0M491.9 762.1h0M492.1 724.7h0M492.1 732.2h0M492.4 734.3h0M492.5 734.1h0M492.7 763.2h0M492.9 739.6h0M493.1 743.9h0M493.3 686.4h0M493.5 728h0M493.7 759.6h0M493.9 694.1h0M494 688h0M494.2 736.9h0M494.5 744.4h0M494.7 741h0M494.8 770.1h0M495.1 726.8h0M495.2 735.1h0M495.3 725.6h0M495.4 753.2h0M495.8 755.4h0M495.9 732.1h0M496 764.7h0M496.3 756.3h0M496.5 760.1h0M496.6 673.9h0M496.7 772.3h0M497 732.8h0M497.2 647.2h0M497.3 776.6h0M497.5 744.3h0M497.7 757.3h0M498 771.9h0M498 745.5h0M498.4 731h0M498.6 774.9h0M498.7 762.6h0M498.8 729.7h0M499 757.2h0M499.2 744.5h0M499.4 727.9h0M546.3 714.1h0M546.5 765.6h0M546.7 735.6h0M547 755.6h0M547.2 701h0M547.3 723.7h0M547.5 756.4h0M547.7 728.7h0M547.9 752h0M548 767.6h0M548.2 747.5h0M548.4 753.5h0M548.7 765.7h0M548.8 759.4h0M549 761.9h0M549.2 734.1h0M549.3 689.5h0M549.5 768.3h0M549.7 732.2h0M550 764h0M550 758.6h0M550.4 667.1h0M550.4 741.5h0M550.6 707.5h0M550.9 733.1h0M551 739.9h0M551.3 772.5h0M551.4 743.7h0M551.7 753.4h0M551.8 768.3h0M551.9 749.3h0M552.1 716.9h0M552.3 749.1h0M552.6 737.4h0M552.8 775h0M552.8 759.9h0M553 734.4h0M553.3 730.6h0M553.5 739.7h0M553.7 768.8h0M553.8 770h0M554 770.3h0M554.2 747h0M554.3 772.5h0M554.6 678.9h0M554.8 747.9h0M554.9 770.8h0M555.1 729.3h0M555.2 747.8h0M555.5 733.7h0M555.6 706.5h0M555.8 739.3h0M556.1 768.9h0M556.2 732.8h0M556.5 749.1h0M556.6 704.7h0M556.8 730.1h0M556.9 757.4h0M557.1 682.1h0M557.4 766.6h0M557.5 732.9h0M557.7 747.7h0M558 772.4h0M558.1 769.7h0M558.3 733.1h0M558.4 719.9h0M558.6 734.6h0M558.8 735h0M559.1 727.9h0M559.2 751h0M559.4 646.5h0M559.6 737.2h0M559.8 757.3h0M559.9 752.6h0M560.2 748.3h0M560.3 728.1h0M560.4 730.7h0M560.7 738.1h0M560.9 722.8h0M561 770.5h0M561.2 759.6h0M561.5 773h0M561.6 746.7h0M561.8 744.2h0M561.9 732h0M562.1 758.3h0M562.4 723.2h0M562.5 667.9h0M562.6 762.3h0M562.9 760.8h0M563.1 744.5h0M563.3 739.5h0M563.4 751.9h0M563.7 751.7h0M563.9 730.1h0M564 681.4h0M564.2 762.4h0M564.3 670.1h0M564.6 758.1h0M564.7 731h0M564.9 705.9h0M565.1 724.3h0M565.3 773.8h0M565.6 723.3h0M565.8 756.8h0M565.8 724.8h0M566 725.4h0M566.3 757.5h0M566.5 674.8h0M566.5 732.3h0M566.8 725.5h0M566.9 745.4h0M567.1 741.5h0M567.4 718.9h0M567.5 769.4h0M567.7 645.1h0M568 724.1h0M568.1 762.2h0M568.3 650.1h0M568.5 754.9h0M568.7 766.4h0M568.9 747.8h0M569 726.7h0M569.2 754.7h0M569.3 777.1h0M569.5 770.1h0M569.8 730h0M570 777h0M570 757.3h0M570.3 764.3h0M570.4 668.1h0M570.6 771.4h0M570.8 723.2h0M571 751.2h0M571.2 738.9h0M571.4 767.2h0M571.7 752.5h0M571.8 736.4h0M572 770.3h0M572.2 751.4h0M572.3 743.9h0M572.6 751.9h0M572.7 672.4h0M572.9 765.1h0M573.1 763.7h0M573.4 663.8h0M573.5 741.5h0M573.8 758.3h0M573.8 760.5h0M574.1 742.7h0M574.1 777.2h0M574.3 753.6h0M574.5 742.6h0M574.9 701.6h0M575 743.3h0M575.1 734.5h0M575.4 759.7h0M575.5 775.3h0M575.6 732.9h0M575.9 755.9h0M576.2 753.3h0M576.3 676.2h0M576.4 769.5h0M576.7 740.4h0M576.9 762.6h0M577 776.2h0M577.3 773.6h0M577.3 681.4h0M577.6 771.2h0M577.8 734h0M577.9 776.6h0M578.1 731.8h0M578.2 730.3h0M578.6 777.2h0M578.7 735h0M578.9 723.2h0M579 673.9h0M579.2 764.9h0M579.3 723.1h0M579.7 770.3h0M579.8 738.8h0M580 758.8h0M580.2 738.8h0M580.4 730.8h0M580.5 754.9h0M580.7 772h0M580.9 774.6h0M581 743.5h0M581.3 732h0M581.4 746.3h0M581.7 769.1h0M581.8 726.1h0M581.9 749.4h0M582.2 747.7h0M582.4 693.4h0M582.5 734.2h0M582.8 723.5h0M582.9 771.2h0M583 770.1h0M583.3 777h0M583.4 766h0M583.6 763.9h0M583.8 757.6h0M584.1 731.4h0M584.2 777.1h0M584.4 699.4h0M584.5 728.4h0M630.3 714.6h0M630.5 763.3h0M630.7 736.8h0M630.9 730.2h0M631.1 731.5h0M631.4 751.1h0M631.4 732.7h0M631.7 717.6h0M631.8 741.2h0M632.1 767h0M632.3 711.4h0M632.5 663.5h0M632.7 766.9h0M632.8 679.2h0M632.9 747.1h0M633.1 757.2h0M633.4 681.1h0M633.5 736.9h0M633.7 761.6h0M633.8 753.8h0M634.1 740.5h0M634.2 763.2h0M634.5 760h0M634.7 770.1h0M634.8 768h0M635 689.9h0M635.1 741.7h0M635.3 680.9h0M635.6 763.1h0M635.7 750.2h0M635.8 762.2h0M636.1 764.7h0M636.2 774.2h0M636.6 734.5h0M636.6 740.6h0M636.9 649.6h0M637 719.5h0M637.1 748.3h0M637.4 760.9h0M637.6 729.3h0M637.7 711.8h0M638 748.9h0M638.1 724.3h0M638.4 714.7h0M638.5 692.4h0M638.7 719.2h0M638.9 749.1h0M639.1 739.4h0M639.2 774.7h0M639.3 719.1h0M639.5 697.8h0M639.8 730.1h0M640 738.5h0M640.1 739.4h0M640.3 729.3h0M640.6 713.3h0M640.6 751.9h0M640.9 739.4h0M641.1 699.7h0M641.3 743.4h0M641.4 753.1h0M641.6 745.5h0M641.8 689.8h0M642 743.2h0M642.2 731.2h0M642.3 711h0M642.5 711.2h0M642.7 761.8h0M642.8 683.9h0M643 741.3h0M643.3 714.9h0M643.4 735.5h0M643.6 732.1h0M643.9 754.8h0M644 714.5h0M644.2 763.2h0M644.4 771.4h0M644.6 744.2h0M644.8 725.6h0M644.9 734.1h0M645.1 740h0M645.2 719.3h0M645.6 718.6h0M645.6 711.7h0M645.8 657.1h0M646.1 764.8h0M646.2 767.3h0M646.4 744h0M646.7 742.5h0M646.8 764.1h0M647 681.6h0M647.1 754.1h0M647.3 734.4h0M647.6 737.1h0M647.7 718.7h0M647.9 759.6h0M648.1 727.2h0M648.3 755.4h0M648.4 733.2h0M648.6 753.5h0M648.7 725.3h0M649 758.2h0M649.1 761.8h0M649.4 691.2h0M649.5 757.6h0M649.7 713h0M649.9 740.8h0M650.2 756.2h0M650.3 770.7h0M650.5 694h0M650.5 666.5h0M650.9 758.9h0M651.1 744.3h0M651.3 708.8h0M651.4 726.3h0M651.5 742.1h0M651.8 758.1h0M651.9 728.8h0M652.1 737.1h0M652.4 745.8h0M652.4 744.2h0M652.6 720.3h0M652.9 722h0M653 713.1h0M653.2 711.8h0M653.3 768.2h0M653.6 768.5h0M653.8 711.3h0M653.9 727.9h0M654.2 770.5h0M654.3 736.6h0M654.5 767h0M654.6 737.8h0M654.8 743.7h0M655 745.4h0M655.3 702.3h0M655.4 754.4h0M655.6 644.8h0M655.9 655.9h0M655.9 747.3h0M656.2 716.4h0M656.4 709.1h0M656.4 718.6h0M656.7 722.8h0M656.9 771.4h0M657 734.8h0M657.3 739.5h0M657.4 695h0M657.7 768.1h0M657.8 702.5h0M658.1 667.4h0M658.1 654.8h0M658.3 741.9h0M658.6 743.9h0M658.7 767.3h0M658.8 767.4h0M659 716.6h0M659.3 719h0M659.4 720.6h0M659.6 711.5h0M659.7 672.6h0M659.9 732.2h0M660.1 730.5h0M660.4 761.4h0M660.6 729.2h0M660.8 716.1h0M660.9 736h0M661.1 739.8h0M661.2 761.3h0M661.5 717.2h0M661.7 741.5h0M661.9 744.7h0M662 716.4h0M662.1 730h0M662.4 754.6h0M662.7 755.8h0M662.8 750.7h0M663 700.9h0M663.2 653h0M663.3 754.1h0M663.5 747.7h0M663.8 726.7h0M663.8 672h0M664 775.2h0M664.2 763.7h0M664.4 731.8h0M664.6 729.6h0M709.6 756.1h0M709.8 734.7h0M710 669.3h0M710.1 755.1h0M710.3 775.2h0M710.6 711h0M710.7 714.2h0M710.9 729.7h0M711.1 723.2h0M711.3 763.5h0M711.4 754.3h0M711.6 715.3h0M711.8 728.5h0M712 741.7h0M712.2 734.4h0M712.4 746.1h0M712.5 661h0M712.8 689.1h0M712.9 721h0M713.1 658.2h0M713.3 754.4h0M713.5 755.7h0M713.7 773.5h0M713.9 741.9h0M714.1 728.9h0M714.2 745.7h0M714.4 723.4h0M714.5 736.8h0M714.8 754.7h0M714.9 743h0M715.1 730.5h0M715.3 729.9h0M715.5 724h0M715.7 734h0M716 713.6h0M716.1 751.5h0M716.1 685.7h0M716.4 751.2h0M716.7 769h0M716.7 761.4h0M717 760.4h0M717.1 705.9h0M717.3 736.8h0M717.4 767.8h0M717.6 731.5h0M717.8 735h0M718 681.2h0M718.2 773.8h0M718.5 721.8h0M718.7 737h0M718.8 735.8h0M719 724.4h0M719.3 734.3h0M719.4 749.9h0M719.6 754.9h0M719.7 747.1h0M719.9 728.4h0M720.1 765.4h0M720.3 763.3h0M720.6 756.5h0M720.6 676.4h0M720.8 764.6h0M721 664.9h0M721.2 723.9h0M721.4 774h0M721.6 726.7h0M721.7 760.7h0M722 774.2h0M722.1 746.1h0M722.4 742.2h0M722.5 771h0M722.7 727.2h0M722.9 743.4h0M723.1 725.6h0M723.3 761.3h0M723.3 740.4h0M723.6 749h0M723.9 687.6h0M724.1 737.9h0M724.1 756.2h0M724.3 763.4h0M724.6 766.3h0M724.6 747.9h0M724.8 761.3h0M725.1 767.8h0M725.2 748h0M725.4 721.9h0M725.6 716.3h0M725.8 729.5h0M726.1 707.1h0M726.3 671.4h0M726.5 744.9h0M726.5 761.2h0M726.8 768.4h0M727 755h0M727.1 749.9h0M727.4 758.9h0M727.5 715.8h0M727.6 720.4h0M727.8 739.6h0M728.1 750.2h0M728.3 717.6h0M728.5 733.6h0M728.6 775.8h0M728.7 765.1h0M728.9 742.9h0M729.3 751h0M729.3 750.2h0M729.6 738.9h0M729.6 698.6h0M729.9 733.8h0M730.1 725.9h0M730.4 769.4h0M730.4 771.3h0M730.7 757.9h0M730.8 746.6h0M731.1 699.6h0M731.3 741.3h0M731.4 678.4h0M731.6 763.3h0M731.7 736.6h0M732 725.3h0M732.1 749.1h0M732.4 772.3h0M732.5 769.9h0M732.7 729.6h0M732.9 719.9h0M733.1 715.2h0M733.3 725.2h0M733.4 772h0M733.5 754.2h0M733.8 768.4h0M733.9 731.3h0M734.2 709h0M734.4 764.7h0M734.5 738.4h0M734.7 724.4h0M735 756.2h0M735.1 747.1h0M735.2 777.1h0M735.4 748.5h0M735.5 774h0M735.8 729.3h0M736 772.4h0M736.2 729.7h0M736.4 714.2h0M736.6 768.8h0M736.6 720.4h0M736.9 714.3h0M737 739.6h0M737.3 754h0M737.4 733.4h0M737.6 719.4h0M737.9 738.4h0M738 733.6h0M738.1 724.2h0M738.4 757.3h0M738.5 751h0M738.8 733h0M738.9 717.3h0M739.1 726.3h0M739.4 699.1h0M739.6 715.8h0M739.7 753.9h0M739.9 726.4h0M740.1 703.8h0M740.2 766.5h0M740.4 741.3h0M740.6 726.9h0M740.8 771.9h0M741 767.2h0M741.1 739.6h0M741.4 722.2h0M741.6 714.8h0M741.7 756.5h0M742 771h0M742.1 739.8h0M742.3 751.6h0M742.5 732.2h0M742.7 776.1h0M742.8 725.8h0M743 776.5h0M743.1 773.9h0M743.4 721.6h0M743.5 751.8h0M743.7 759.3h0M743.9 762.3h0M744 745.4h0M744.3 741.2h0M744.5 741.9h0M744.6 722h0M744.9 709.5h0M745.1 751.4h0M745.1 698.9h0M745.4 721.8h0M793 726.7h0M793.1 679h0M793.3 755.8h0M793.4 765.5h0M793.6 725.7h0M793.9 757.1h0M794 750.3h0M794.2 760.3h0M794.4 759.7h0M794.6 741.9h0M794.7 740h0M794.9 772.1h0M795.1 762.6h0M795.4 755.6h0M795.5 748.7h0M795.7 734.9h0M795.8 759h0M796 772.6h0M796.3 755.7h0M796.4 738h0M796.7 754.9h0M796.8 771h0M797 738.4h0M797.3 775.5h0M797.4 764.2h0M797.5 755.9h0M797.8 736.6h0M797.9 772.9h0M798.1 763.3h0M798.2 720.5h0M798.5 697.3h0M798.6 774.4h0M798.8 774.3h0M799 777.2h0M799.3 745.6h0M799.4 754.7h0M799.7 753.4h0M799.8 746.8h0M800 751.7h0M800.1 725.3h0M800.4 726.6h0M800.5 761.5h0M800.7 755.1h0M800.9 752.3h0M801.1 743h0M801.2 764.3h0M801.4 742.2h0M801.5 745.8h0M801.9 750.9h0M802 754.1h0M802.2 743.7h0M802.3 772.9h0M802.5 737.2h0M802.7 706.7h0M803 731h0M803.1 762.4h0M803.4 776h0M803.4 763.6h0M803.7 728.7h0M803.9 731.8h0M804.1 761.1h0M804.2 766h0M804.4 693.5h0M804.5 731.9h0M804.9 765.2h0M805 728h0M805.1 760.6h0M805.4 742.9h0M805.6 729.5h0M805.8 758.6h0M805.9 764h0M806.2 730h0M806.3 751.1h0M806.5 754.3h0M806.6 764.7h0M806.8 743h0M807.1 731.8h0M807.2 688.2h0M807.5 733.9h0M807.6 752.2h0M807.8 764.6h0M808 754h0M808.1 759.3h0M808.3 737.1h0M808.6 734.2h0M808.6 727h0M808.9 703.7h0M809.1 772.2h0M809.2 739.2h0M809.5 763.1h0M809.7 761.8h0M809.8 735.6h0M810.1 745.2h0M810.2 753.2h0M810.3 762.4h0M810.6 734.7h0M810.7 751h0M811 743.5h0M811.1 757.3h0M811.3 736.7h0M811.5 774.5h0M811.7 712.1h0M811.9 742.9h0M812.1 742.2h0M812.2 665.5h0M812.4 695.5h0M812.5 769.4h0M812.8 703.2h0M812.9 752.8h0M813.1 746.2h0M813.3 766.3h0M813.5 761h0M813.8 753.7h0M814 756.3h0M814.1 753.4h0M814.3 769.4h0M814.5 771.8h0M814.6 746h0M814.8 736.6h0M815 773.2h0M815.1 735.3h0M815.4 749.2h0M815.6 758.2h0M815.8 754.6h0M815.9 752.8h0M816.2 750h0M816.4 751.3h0M816.5 726.2h0M816.7 747.7h0M816.9 756.5h0M817.1 736.1h0M817.2 747.9h0M817.4 739.1h0M817.6 712.8h0M817.8 771.7h0M817.9 740.6h0M818.2 732.1h0M818.4 726.7h0M818.5 740.6h0M818.7 761h0M818.9 763.1h0M819.1 707.2h0M819.2 742h0M819.5 760.1h0M819.7 775.7h0M819.9 749h0M820.1 733.8h0M820.1 730h0M820.4 772.7h0M820.6 773.6h0M820.7 765.7h0M820.9 749.8h0M821.1 728.2h0M821.4 753.8h0M821.6 757.3h0M821.7 773.9h0M821.8 770h0M822 767.6h0M822.2 773.2h0M822.4 743.1h0M822.7 760h0M822.7 744.8h0M823 715.3h0M823.2 754.2h0M823.5 736.7h0M823.6 667.5h0M823.8 762.3h0M824 676.7h0M824.1 746.2h0M824.3 751.5h0M824.4 777.1h0M824.7 721.3h0M825 775.4h0M825.1 727.2h0M825.2 745.9h0M825.5 738.3h0M825.6 741.9h0M825.7 750.8h0M826 772h0M826.3 768.8h0M826.4 739.2h0M826.5 731.9h0M826.8 765.9h0M826.9 729.4h0M827.2 729.6h0M827.3 757.9h0M827.4 739.7h0M827.7 773.5h0M827.8 724.1h0M828 686.3h0M828.2 747.1h0M828.3 755.7h0M828.6 740h0M828.8 741.8h0M829.1 749.9h0M829.2 764.2h0M829.3 743.9h0M829.5 770.2h0M829.8 730.5h0M829.9 730.4h0M830.2 675.3h0M830.2 750.5h0M830.5 737.8h0M830.7 664.9h0M830.9 739h0M831 709.3h0M831.2 764h0M831.4 743.5h0M831.6 737.5h0M831.7 757.2h0M832 735.8h0M832.1 768.9h0M832.3 677.7h0M832.5 768.4h0M474.2 522.1h0M490.8 643.3h0M466.7 681.7h0M479.2 683.8h0M490.8 681.7h0M576.2 615.8h0M579.2 638.8h0M545 657.9h0M555.4 679.6h0M641.7 634.6h0M647.1 640.8h0M659.6 635h0M661.7 579.6h0M722.1 605.8h0M720 644.2h0M727.1 656.7h0M719.2 662.9h0M797.1 632.9h0M827.5 579.6h0" stroke="#7e8191" stroke-width="5.3" stroke-linecap="round" fill="none"/>
<path d="M503.7 681.5h0M503.8 745.6h0M504 710.6h0M504.2 733.6h0M504.2 712.1h0M504.4 717h0M504.7 775.2h0M504.9 760.9h0M505.1 728.8h0M505.3 754.9h0M505.5 656.1h0M505.7 753.5h0M505.9 738.9h0M506 707.6h0M506.1 712.8h0M506.4 750h0M506.5 705.4h0M506.7 768.1h0M506.9 737.3h0M507.1 742.4h0M507.3 720.8h0M507.4 669.9h0M507.7 717.6h0M507.9 724.5h0M508.1 720h0M508.3 719.9h0M508.5 730.3h0M508.6 738.3h0M508.7 739.9h0M508.9 666.2h0M509.1 731h0M509.3 724.5h0M509.6 757.9h0M509.7 721.2h0M510 753.3h0M510.1 772.2h0M510.2 731.3h0M510.5 731.6h0M510.6 746.4h0M510.9 760.6h0M511 723.3h0M511.2 768.5h0M511.4 757.9h0M511.5 754.9h0M511.8 678.1h0M512 713.9h0M512.2 738.3h0M512.2 759.5h0M512.4 724.4h0M512.7 709.1h0M512.9 719.5h0M513.1 768.8h0M513.3 713.8h0M513.4 741.9h0M513.7 745.1h0M513.8 664.4h0M514.1 658.4h0M514.2 717.2h0M514.4 660.5h0M514.6 751.5h0M514.7 725.5h0M515 763.8h0M515.2 771.2h0M515.3 751.5h0M515.6 716h0M515.6 752.1h0M515.9 741.6h0M516 709.7h0M516.2 748.5h0M516.4 680.4h0M516.6 760.1h0M516.9 746.6h0M516.9 763h0M517.2 753.5h0M517.4 697.2h0M517.5 740.3h0M517.7 772.7h0M518 751.1h0M518 756.5h0M518.2 732.3h0M518.4 743.8h0M518.6 734.2h0M518.8 761.3h0M519 721.2h0M519.2 753.4h0M519.4 732.3h0M519.6 764.2h0M519.8 740.6h0M519.9 754.3h0M520.1 776.4h0M520.3 671.2h0M520.5 761.3h0M520.6 727.5h0M520.9 737.9h0M521.1 652.9h0M521.1 716.9h0M521.5 750.6h0M521.7 763h0M521.8 725.3h0M521.9 724.2h0M522.1 777.3h0M522.4 724.7h0M522.6 726.9h0M522.7 740.5h0M522.9 763.7h0M523.1 770.7h0M523.2 737.5h0M523.5 769.3h0M523.6 770.7h0M523.9 758.7h0M524.1 695h0M524.2 738.7h0M524.3 663h0M524.5 755.2h0M524.7 715.5h0M524.9 756h0M525.1 695.5h0M525.2 752h0M525.5 760.1h0M525.7 756.3h0M525.8 727.5h0M526.1 670.8h0M526.2 754.6h0M526.4 679.5h0M526.5 666.3h0M526.8 760.9h0M527 753.2h0M527.2 764.1h0M527.3 709.7h0M527.5 774.5h0M527.7 767h0M527.8 722.6h0M528 718h0M528.3 724.6h0M528.5 692.4h0M528.7 653.8h0M528.8 698.9h0M529.1 702.9h0M529.2 725.7h0M529.3 711.3h0M529.5 727.5h0M529.8 749h0M529.9 713h0M530.2 744.8h0M530.2 739.8h0M530.6 771.8h0M530.8 748h0M530.8 663h0M531.1 727.2h0M531.2 713.7h0M531.4 721.2h0M531.6 713.7h0M531.9 767.9h0M531.9 762.8h0M532.2 676.8h0M532.5 748.8h0M532.5 748.4h0M532.8 659h0M532.8 726.9h0M533.1 743.4h0M533.4 742h0M533.5 717h0M533.7 760.8h0M533.9 738.1h0M534.1 742h0M534.2 776.2h0M534.4 768.8h0M534.6 713.9h0M534.8 675.3h0M535 756.5h0M535.2 739.1h0M535.3 765.7h0M535.6 721.9h0M535.6 762.8h0M535.9 726h0M536.1 741.8h0M536.3 677.6h0M536.5 743.3h0M536.6 768.4h0M536.8 747.5h0M537 750.4h0M537.1 710.4h0M537.4 727.6h0M537.5 736.6h0M537.8 776.2h0M537.9 694.9h0M538.2 773.3h0M538.3 760.7h0M538.5 722.5h0M538.7 761.2h0M538.8 667.7h0M539.1 709.5h0M539.2 767.3h0M539.5 772.6h0M539.7 744.7h0M539.7 679.1h0M539.9 748.3h0M540.1 673.7h0M540.4 753.7h0M540.6 747h0M540.7 727.7h0M540.9 663.2h0M541.1 769.7h0M541.2 733.4h0M541.5 768.7h0M541.7 756.2h0M541.8 684h0M542.1 758.3h0M542.2 759.3h0M588.7 742.3h0M589 738.6h0M589.1 738.5h0M589.4 777.4h0M589.5 671h0M589.7 767.4h0M590 723.1h0M590.2 753.9h0M590.3 741.5h0M590.4 753.9h0M590.6 766.6h0M590.9 737.2h0M591.1 723.5h0M591.1 744h0M591.3 769h0M591.6 721.4h0M591.8 764.3h0M591.9 776.7h0M592 739.7h0M592.3 762.9h0M592.6 756.5h0M592.7 751.2h0M592.9 714.9h0M593.1 732.3h0M593.3 764.5h0M593.5 763.5h0M593.6 732.7h0M593.8 732.9h0M594 761.4h0M594.2 717.9h0M594.3 776.8h0M594.5 758.6h0M594.7 773.9h0M594.9 756h0M595 753.4h0M595.4 742.4h0M595.4 755.8h0M595.7 746.7h0M595.8 769.9h0M596 752.7h0M596.2 656.8h0M596.4 649.3h0M596.5 756.9h0M596.8 653.7h0M596.9 730.5h0M597.2 760.2h0M597.4 760.7h0M597.5 761h0M597.6 664.4h0M597.9 773.6h0M598.1 732.6h0M598.2 721.1h0M598.5 748.1h0M598.5 761.8h0M598.7 775.2h0M599 686.8h0M599.2 747.5h0M599.4 761.5h0M599.6 745.7h0M599.7 668.7h0M599.8 722.3h0M600.1 769.6h0M600.3 748.8h0M600.5 732.2h0M600.7 724.8h0M600.8 667.2h0M601 749.5h0M601.1 720.2h0M601.5 716.2h0M601.6 771.7h0M601.7 727.9h0M601.9 715h0M602.2 772.3h0M602.3 718.9h0M602.4 703.2h0M602.7 773.5h0M602.9 659.1h0M603.1 745.2h0M603.2 741.1h0M603.5 725h0M603.5 771.6h0M603.9 737.5h0M604 727.5h0M604.2 714.3h0M604.3 764.5h0M604.6 738.2h0M604.8 777.8h0M605 761.4h0M605.2 727.4h0M605.2 739.3h0M605.5 738.9h0M605.6 771.1h0M605.8 773.3h0M606 727.2h0M606.2 716.4h0M606.5 742h0M606.6 750.5h0M606.7 649.4h0M606.9 757.7h0M607.1 777.1h0M607.4 739.9h0M607.5 737.9h0M607.7 745.6h0M607.9 729.2h0M608.1 762.1h0M608.2 669.4h0M608.3 737.8h0M608.6 681.8h0M608.7 734.5h0M609 727.8h0M609.1 771.8h0M609.4 776.4h0M609.5 718.9h0M609.7 691.8h0M610 748.5h0M610.1 778.3h0M610.3 738.3h0M610.5 718.8h0M610.7 776.4h0M610.8 736.4h0M611.1 749.3h0M611.1 775.6h0M611.3 688.1h0M611.6 718.9h0M611.7 726.5h0M611.9 726.3h0M612.2 722.7h0M612.3 774.3h0M612.6 650.4h0M612.6 741.4h0M612.9 768.8h0M613.1 736.2h0M613.2 677.5h0M613.5 688.2h0M613.7 773.2h0M613.8 715.1h0M614 690.6h0M614.2 732.7h0M614.4 751.4h0M614.5 768.3h0M614.7 774.1h0M615 661.3h0M615.1 772.9h0M615.2 677.1h0M615.5 738.5h0M615.6 744.8h0M615.8 770.1h0M616 687h0M616.2 746.7h0M616.4 777h0M616.7 714.3h0M616.8 768.2h0M617 726.6h0M617.1 730.7h0M617.4 743.5h0M617.5 762h0M617.8 773.5h0M617.9 746.9h0M618 710.7h0M618.2 744h0M618.5 764.1h0M618.7 718.1h0M618.8 661.1h0M618.9 755.3h0M619.2 716.8h0M619.4 760.6h0M619.6 724h0M619.8 717.2h0M619.9 751h0M620.2 722.6h0M620.3 777.9h0M620.4 736.3h0M620.6 720.6h0M620.8 715.8h0M621 774.5h0M621.3 768.3h0M621.4 717.5h0M621.6 725.4h0M621.7 735.4h0M622 757.5h0M622.2 759.7h0M622.3 774.4h0M622.5 717.3h0M622.7 723.4h0M622.9 750.1h0M623.1 661h0M623.2 769.3h0M623.4 727h0M623.5 718.2h0M623.8 711.9h0M624 761.7h0M624.2 750.4h0M624.3 744.9h0M624.5 663h0M624.8 755.8h0M624.9 734.9h0M625.1 699.8h0M625.2 744.1h0M625.5 751.9h0M625.7 749h0M625.8 736.4h0M626 771.2h0M626.2 766.6h0M668.8 726.6h0M668.9 702.1h0M669.2 768.5h0M669.3 744.2h0M669.6 751.7h0M669.6 741.5h0M670 643.4h0M670 766.4h0M670.2 744h0M670.5 766.8h0M670.7 760h0M670.8 768.8h0M671.1 771.3h0M671.2 729h0M671.4 771.3h0M671.5 731.1h0M671.8 764.5h0M672 767.9h0M672.1 749.1h0M672.3 733.9h0M672.5 774.7h0M672.7 776.7h0M672.9 698.7h0M673.1 721.3h0M673.2 730.8h0M673.4 744.2h0M673.5 753.5h0M673.9 732.1h0M673.9 726.2h0M674.2 732.3h0M674.4 767.1h0M674.5 737.8h0M674.7 742.8h0M674.9 683.5h0M675 731.8h0M675.3 651.9h0M675.5 771.8h0M675.6 737h0M675.8 730.9h0M676.1 712.4h0M676.2 739.5h0M676.4 752h0M676.6 713h0M676.8 770.2h0M676.9 699.6h0M677.1 764h0M677.3 720.7h0M677.5 657.2h0M677.6 752h0M677.8 728.4h0M678 745.5h0M678.3 770.6h0M678.4 771.7h0M678.5 716.9h0M678.8 772.8h0M678.9 641.3h0M679.2 755.7h0M679.3 740.8h0M679.5 745.5h0M679.7 771.9h0M679.9 657.9h0M680.1 728.2h0M680.2 734.3h0M680.4 776.3h0M680.7 756h0M680.7 724.3h0M681.1 726.5h0M681.1 725.6h0M681.4 738.1h0M681.6 772.3h0M681.7 735.8h0M681.9 718.7h0M682.1 719.2h0M682.3 752h0M682.4 772.8h0M682.6 722.9h0M682.9 688.5h0M683 681h0M683.2 743.2h0M683.4 774.7h0M683.6 751.9h0M683.9 719.4h0M683.9 743.2h0M684.2 748h0M684.4 685.5h0M684.5 769.4h0M684.8 766.4h0M684.9 769.1h0M685 740.6h0M685.3 738.8h0M685.5 734.1h0M685.5 751.8h0M685.8 745.7h0M686.1 659.5h0M686.2 729.3h0M686.3 726.3h0M686.5 776.5h0M686.8 719.5h0M686.8 747.3h0M687 745.9h0M687.2 714.7h0M687.4 717h0M687.6 729.5h0M687.8 715.9h0M688 726h0M688.3 723.7h0M688.4 774.2h0M688.5 769.9h0M688.7 742.5h0M689 773.3h0M689.2 748.7h0M689.3 662.6h0M689.5 739.3h0M689.7 730.5h0M690 736.9h0M690 747.9h0M690.3 751.2h0M690.4 719.3h0M690.7 718.4h0M690.9 771h0M691.1 721.5h0M691.2 720h0M691.3 741.3h0M691.5 732.4h0M691.7 743.5h0M691.9 724.3h0M692.1 727.9h0M692.3 751.2h0M692.4 723.8h0M692.6 764.3h0M692.8 730.4h0M693 645.2h0M693.1 726.3h0M693.3 695h0M693.6 745.4h0M693.8 773.7h0M693.9 735.3h0M694.1 716h0M694.3 743.8h0M694.4 745.5h0M694.8 719.1h0M694.9 737.7h0M695.1 726.5h0M695.3 682.5h0M695.4 727.6h0M695.7 677h0M695.8 753.7h0M696 773.8h0M696.1 733.9h0M696.3 732.8h0M696.5 722.7h0M696.8 748h0M696.9 760h0M697.2 768h0M697.3 733.1h0M697.5 754h0M697.7 718.1h0M697.8 775.6h0M698 738h0M698.2 760.9h0M698.4 746h0M698.6 772.2h0M698.8 731.4h0M698.9 725.9h0M699.2 777h0M699.3 749.8h0M699.5 763.4h0M699.6 774h0M699.8 702.6h0M700.1 754.8h0M700.2 664.2h0M700.4 750.4h0M700.5 723.8h0M700.7 770.5h0M700.9 751.2h0M701.2 718.9h0M701.3 738.4h0M701.6 723.9h0M701.8 767.3h0M701.8 731.2h0M702.1 775.9h0M702.2 757.8h0M702.5 717h0M702.7 757.4h0M702.8 658.9h0M703 657.1h0M703.3 733.5h0M703.4 725.6h0M703.6 728.8h0M703.8 734.7h0M703.9 668.8h0M704.1 776.9h0M704.4 777.3h0M704.4 721h0M704.7 729.9h0M704.8 747.8h0M705 731.3h0M705.2 728.7h0M705.5 748h0M749.6 754.9h0M749.9 744.6h0M750 757.5h0M750.2 697.5h0M750.3 740.4h0M750.5 760.2h0M750.8 735.6h0M750.8 700h0M751.1 762.5h0M751.2 751.7h0M751.4 734.2h0M751.6 681.3h0M751.8 672.1h0M752.1 774.2h0M752.2 743.8h0M752.3 750.5h0M752.6 738.8h0M752.7 721.2h0M752.9 761.1h0M753.1 725.2h0M753.3 741.3h0M753.6 751.7h0M753.6 749.6h0M753.9 730.2h0M754 740.5h0M754.2 737.8h0M754.4 728h0M754.6 757.4h0M754.9 757.5h0M755 719.7h0M755.2 756.2h0M755.3 738.1h0M755.6 761.8h0M755.8 722.4h0M756 745.5h0M756.1 729.8h0M756.4 769.2h0M756.4 739.9h0M756.6 746.9h0M756.9 647.2h0M757 737.2h0M757.2 752.2h0M757.5 726.1h0M757.7 750.4h0M757.7 754.2h0M758 756.9h0M758.1 700.1h0M758.3 729.1h0M758.5 775.6h0M758.6 725.7h0M758.9 750h0M759.1 740.1h0M759.2 670.4h0M759.4 760.6h0M759.6 730.8h0M759.9 730.4h0M760.1 743.5h0M760.2 742.5h0M760.4 746.5h0M760.5 750.1h0M760.8 729.2h0M761 754h0M761.2 748.2h0M761.2 758.2h0M761.5 767.7h0M761.6 735.6h0M762 649h0M762 735.8h0M762.2 737h0M762.4 698.8h0M762.7 768.6h0M762.8 726.1h0M763 743.3h0M763.2 765.8h0M763.3 737.7h0M763.5 743.7h0M763.8 745.8h0M764 739.5h0M764 760.5h0M764.3 738.9h0M764.6 751.1h0M764.8 769.2h0M765 725.6h0M765.1 768.3h0M765.3 755h0M765.4 721.4h0M765.6 729.5h0M765.8 761.5h0M766 763.1h0M766.1 675.7h0M766.4 751.9h0M766.6 721.9h0M766.7 762.2h0M767 754.6h0M767.1 766.6h0M767.2 688.9h0M767.5 764.1h0M767.7 751.7h0M767.9 751.4h0M768.1 746.2h0M768.2 741h0M768.4 745.2h0M768.6 737.1h0M768.7 756.3h0M769 733h0M769.1 736.7h0M769.3 736h0M769.6 695.5h0M769.7 700.2h0M769.9 733h0M770.1 720.2h0M770.3 734.5h0M770.5 753.1h0M770.7 658h0M770.9 744.7h0M771 732.6h0M771.2 761h0M771.4 775.4h0M771.5 763.2h0M771.7 734.6h0M772 764h0M772.2 733.3h0M772.3 743.3h0M772.5 740h0M772.8 769.3h0M772.9 724.1h0M773.1 735.1h0M773.3 737.4h0M773.5 764.7h0M773.7 699h0M773.7 665h0M773.9 749.1h0M774.1 735.1h0M774.4 753.8h0M774.5 749.7h0M774.7 727.5h0M774.9 723.4h0M775.1 769.2h0M775.4 680.4h0M775.4 708.7h0M775.7 739.8h0M775.8 736.2h0M776 753.2h0M776.3 766.7h0M776.4 752.1h0M776.6 769.3h0M776.8 744.9h0M777 767.9h0M777.2 768.5h0M777.3 764.1h0M777.4 732.5h0M777.8 686.2h0M777.8 752.1h0M778.1 727.1h0M778.4 680h0M778.5 752.9h0M778.6 763.2h0M778.8 745.6h0M779 740.8h0M779.2 727h0M779.4 744.4h0M779.6 736.4h0M779.8 763h0M780 702.9h0M780.2 750.5h0M780.3 742.4h0M780.5 770.5h0M780.7 745.8h0M780.9 726.3h0M781.1 770.6h0M781.3 691.5h0M781.4 752.3h0M781.7 736.2h0M781.9 695h0M782 776.2h0M782.1 732.8h0M782.3 735.6h0M782.5 692.7h0M782.7 732.8h0M782.9 671.1h0M783.1 738.3h0M783.2 710.1h0M783.5 757h0M783.6 726.4h0M783.8 744.6h0M784 707.5h0M784.3 736.9h0M784.4 770.5h0M784.6 745.6h0M784.9 774.7h0M784.9 715.5h0M785.1 729.3h0M785.4 670.5h0M785.6 742.6h0M785.7 724.6h0M786 732.8h0M786.1 754.7h0M786.3 724.4h0M786.4 767.6h0M786.7 707.2h0M786.8 744.4h0M787.1 770.5h0M787.2 723.3h0M787.5 724.9h0M787.5 760.8h0M787.7 762.1h0M787.9 759.2h0M788.1 702.1h0M788.2 745.5h0M788.5 775.8h0M788.7 746.2h0M836.8 775.3h0M836.8 768.7h0M837.1 757.6h0M837.3 757.3h0M837.5 748.1h0M837.6 771.4h0M837.7 770.6h0M838 768.4h0M838.1 723.4h0M838.4 729h0M838.6 758.7h0M838.8 774.7h0M838.9 749.4h0M839.2 738.5h0M839.3 776.1h0M839.5 692.1h0M839.8 739.5h0M839.9 649.6h0M840.1 762.9h0M840.3 725.5h0M840.4 768.8h0M840.6 748.5h0M840.8 738.5h0M841 775.7h0M841.2 722.7h0M841.4 723.9h0M841.4 777h0M841.7 726.4h0M842 751.9h0M842 771.4h0M842.2 732.8h0M842.4 698.4h0M842.7 770.8h0M842.8 753.4h0M843.1 765.6h0M843.3 698h0M843.4 678.5h0M843.6 747.5h0M843.7 718.5h0M843.9 683.1h0M844.1 761.6h0M844.3 718.7h0M844.6 738.3h0M844.8 737.9h0M844.9 685.6h0M845 744.9h0M845.3 718.3h0M845.4 760.5h0M845.7 768.1h0M845.9 758.2h0M846 743.1h0M846.2 775.3h0M846.3 719.5h0M846.6 777.7h0M846.8 722.2h0M846.9 732.9h0M847.1 723.7h0M847.3 775h0M847.4 764.5h0M847.6 732.7h0M847.9 666.6h0M848.1 739.2h0M848.3 727.6h0M848.3 767.8h0M848.6 718.6h0M848.7 746.6h0M848.9 730.7h0M849.2 723.1h0M849.4 766.3h0M849.6 777.5h0M849.8 768h0M849.8 739.6h0M850 729.9h0M850.3 775.2h0M850.5 730.4h0M850.7 722.3h0M850.9 756.7h0M851 720.7h0M851.3 763.5h0M851.4 753.1h0M851.5 770.8h0M851.8 731.4h0M851.9 728.9h0M852.1 779.2h0M852.4 763.2h0M852.5 751.8h0M852.7 737.9h0M852.9 772.9h0M853.1 736.9h0M853.3 730.7h0M853.4 746.2h0M853.6 774.2h0M853.8 761.2h0M854.1 762.7h0M854.2 767.5h0M854.3 775.5h0M854.5 779.1h0M854.8 725.3h0M855 778.1h0M855.2 757.9h0M855.2 758.9h0M855.6 734.9h0M855.7 765.5h0M855.9 748.9h0M856 772.2h0M856.2 770.9h0M856.4 743.8h0M856.7 681.9h0M856.8 749.2h0M857 740.7h0M857.1 723.7h0M857.3 768.5h0M857.5 718.3h0M857.7 751.1h0M857.9 723.7h0M858.2 733h0M858.3 661.1h0M858.4 752.9h0M858.6 760.4h0M858.9 757.7h0M859.1 772.4h0M859.2 735.4h0M859.5 748.1h0M859.6 742.5h0M859.8 776.1h0M859.9 763.6h0M860.2 735.9h0M860.3 704.7h0M860.4 758.9h0M860.7 657.7h0M860.8 722.4h0M861 766.7h0M861.2 746h0M861.4 734.7h0M861.6 747.2h0M861.8 756.4h0M862 734h0M862.2 739.5h0M862.4 722.2h0M862.5 763.2h0M862.8 663.3h0M862.9 742h0M863.1 760.5h0M863.4 754h0M863.5 725.9h0M863.6 754.8h0M863.9 688.4h0M864.1 735h0M864.2 718.8h0M864.5 724.2h0M864.6 697.4h0M864.7 707.8h0M865 760.6h0M865.1 750.7h0M865.3 747.7h0M865.6 722.8h0M865.7 678.4h0M865.9 775.8h0M866 758.7h0M866.3 745.8h0M866.5 744.8h0M866.6 723h0M866.8 759.4h0M867 728.9h0M867.2 749.8h0M867.4 776.3h0M867.5 779.5h0M867.9 692.5h0M868 719.7h0M868.1 776.4h0M868.3 738h0M868.6 739.4h0M868.7 717.1h0M868.9 768.1h0M869 707.8h0M869.2 766.5h0M869.5 764.6h0M869.6 762.8h0M869.7 776.3h0M869.9 737.3h0M870.2 723.8h0M870.4 754.3h0M870.5 776.2h0M870.7 766.5h0M870.9 740.9h0M871.1 736.1h0M871.3 730.6h0M871.5 776.9h0M871.6 761.3h0M871.9 723.7h0M872 726.6h0M872.2 724h0M872.4 720.8h0M872.7 719.5h0M872.7 685.2h0M873.1 778.2h0M873.3 724.2h0M873.3 718.7h0M873.6 762.5h0M873.7 701.1h0M874 729.1h0M874.1 765h0M874.4 689.4h0M874.6 747.7h0M874.7 729.8h0M874.9 736.3h0M875.1 746.9h0M875.2 672.7h0M875.5 745h0M504.2 567.1h0M522.9 562.1h0M513.8 615h0M522 617h0M515 627.5h0M508.8 654.6h0M502.5 670h0M536.7 633.8h0M531.2 645h0M540.8 644.2h0M530.4 658.8h0M533.3 672.5h0M539.6 679.6h0M608.8 635.8h0M604.6 660.8h0M598.3 665h0M622.9 664.2h0M619.2 673.3h0M686.7 535h0M680.4 637.1h0M696.2 649.6h0M707.5 640.8h0M686.7 660.8h0M700 665h0M676.2 679.6h0M749.2 651.7h0M752.5 656.7h0M769.2 656.7h0M780.4 628.8h0M783.3 665h0M870.8 594.2h0M877.5 618.3h0M842.1 642.9h0M867.9 642.1h0M875.4 655.4h0M867.9 662.9h0" stroke="#5bb947" stroke-width="5.3" stroke-linecap="round" fill="none"/>
<path d="M460.8,744.5H501.5M501.5,736.3H544.3M544.3,742H586.7M586.7,740H628.3M628.3,734.6H666.7M666.7,741.3H707.5M707.5,740.4H747.5M747.5,744H790.8M790.8,747.5H834.6M834.6,741.7H877.5" stroke="#231f20" stroke-width="6.6" fill="none"/>
<circle cx="876.3" cy="515.8" r="7.2" fill="#e8287a"/>
<text x="1021.1" y="33.7" font-size="40" fill="#231f20" font-weight="bold" textLength="180.54" lengthAdjust="spacingAndGlyphs">Monkey J</text>
<text x="1227.9" y="33.5" font-size="40" fill="#231f20" font-weight="bold" textLength="188.52" lengthAdjust="spacingAndGlyphs">Monkey R</text>
<path d="M1007.5,47.2H1018V377.8M1007.5,211.8H1018M1007.5,376.2H1018" stroke="#414042" stroke-width="3.2" fill="none"/>
<text x="985.2" y="57.5" font-size="29" fill="#231f20" textLength="16.87" lengthAdjust="spacingAndGlyphs">2</text>
<text x="985.1" y="386.6" font-size="29" fill="#231f20" textLength="16.45" lengthAdjust="spacingAndGlyphs">0</text>
<text transform="translate(991,335.4) rotate(-90)" font-size="33" fill="#231f20" textLength="257.82" lengthAdjust="spacingAndGlyphs">Time to Target (s)</text>
<path d="M1040,377.2H1189M1255,377.2H1404" stroke="#414042" stroke-width="3.2"/>
<rect x="1051.2" y="253.7" width="45.8" height="123.3" fill="#5bb947"/>
<text transform="translate(1084.1,368.1) rotate(-90)" font-size="29.5" fill="#ffffff" textLength="70.73" lengthAdjust="spacingAndGlyphs">0.745</text>
<rect x="1131.3" y="230.8" width="45.7" height="146.2" fill="#7e8191"/>
<text transform="translate(1164.2,368.1) rotate(-90)" font-size="29.5" fill="#ffffff" textLength="70.44" lengthAdjust="spacingAndGlyphs">0.884</text>
<rect x="1267.4" y="187.2" width="45.2" height="189.8" fill="#5bb947"/>
<text transform="translate(1300,369.2) rotate(-90)" font-size="29.5" fill="#ffffff" textLength="71.92" lengthAdjust="spacingAndGlyphs">1.149</text>
<rect x="1347.1" y="134.4" width="45.3" height="242.6" fill="#7e8191"/>
<text transform="translate(1379.8,369.1) rotate(-90)" font-size="29.5" fill="#ffffff" textLength="71.62" lengthAdjust="spacingAndGlyphs">1.470</text>
<text x="1057.3" y="70" font-size="29" fill="#5bb947" textLength="122.26" lengthAdjust="spacingAndGlyphs">4/4 better</text>
<text x="1304.8" y="69" font-size="29" fill="#5bb947" textLength="40.33" lengthAdjust="spacingAndGlyphs">5/5</text>
<path d="M1074,224L1155,180.5M1074,256L1155,242M1074,264L1155,243M1074,272.5L1155,260.5" stroke="#231f20" stroke-width="5" stroke-linecap="round" fill="none"/>
<rect x="1106" y="194.6" width="16" height="16" fill="#8b5a35"/>
<rect x="1106" y="240.6" width="16" height="16" fill="#8b5a35"/>
<path d="M1289.5,100.7L1369.5,63.1M1289.5,174.3L1369.5,155.5M1289.5,203.3L1369.5,120.5M1289.5,207.3L1369.5,124.5M1289.5,251.1L1369.5,207.6" stroke="#231f20" stroke-width="5" stroke-linecap="round" fill="none"/>
<rect x="1319.2" y="219" width="21" height="20.5" fill="#8b5a35"/>
<circle cx="1329.7" cy="228.9" r="8.1" fill="#29a9e0"/>
<path d="M1007.5,487H1018V818M1007.5,651.8H1018M1007.5,816.5H1018" stroke="#414042" stroke-width="3.2" fill="none"/>
<text x="985.2" y="497.3" font-size="29" fill="#231f20" textLength="16.87" lengthAdjust="spacingAndGlyphs">2</text>
<text x="985.1" y="826.8" font-size="29" fill="#231f20" textLength="16.45" lengthAdjust="spacingAndGlyphs">0</text>
<text transform="translate(991,783) rotate(-90)" font-size="33" fill="#231f20" textLength="257.82" lengthAdjust="spacingAndGlyphs">Time to Target (s)</text>
<path d="M1040,817.2H1189M1255,817.2H1404" stroke="#414042" stroke-width="3.2"/>
<rect x="1051.2" y="647.8" width="45.8" height="169.2" fill="#5bb947"/>
<text transform="translate(1084.1,809.1) rotate(-90)" font-size="29.5" fill="#ffffff" textLength="71.47" lengthAdjust="spacingAndGlyphs">1.024</text>
<rect x="1131.3" y="647.5" width="45.7" height="169.5" fill="#7e8191"/>
<text transform="translate(1164.2,809.2) rotate(-90)" font-size="29.5" fill="#ffffff" textLength="71.77" lengthAdjust="spacingAndGlyphs">1.026</text>
<rect x="1267.4" y="624.9" width="45.2" height="192.1" fill="#5bb947"/>
<text transform="translate(1300,809.2) rotate(-90)" font-size="29.5" fill="#ffffff" textLength="71.77" lengthAdjust="spacingAndGlyphs">1.163</text>
<rect x="1347.1" y="639.2" width="45.3" height="177.8" fill="#7e8191"/>
<text transform="translate(1379.8,809.2) rotate(-90)" font-size="29.5" fill="#ffffff" textLength="71.77" lengthAdjust="spacingAndGlyphs">1.076</text>
<text x="1091.5" y="523" font-size="29" fill="#5bb947" textLength="40.90" lengthAdjust="spacingAndGlyphs">2/8</text>
<text x="1308.2" y="522.4" font-size="29" fill="#5bb947" textLength="40.64" lengthAdjust="spacingAndGlyphs">3/7</text>
<text x="1307.9" y="551.2" font-size="29" fill="#7e8191" textLength="40.95" lengthAdjust="spacingAndGlyphs">2/7</text>
<path d="M1074,602.5L1155,618.7M1074,611.2L1155,615.5M1074,621.7L1155,625.7M1074,640.7L1155,643.7M1074,675.7L1155,668.7M1074,688.2L1155,688.2" stroke="#808285" stroke-width="3" stroke-linecap="round" fill="none"/>
<path d="M1074,667.5L1155,653M1074,677L1155,667" stroke="#231f20" stroke-width="4.6" stroke-linecap="round" fill="none"/>
<circle cx="1113.8" cy="641.5" r="8" fill="#e8287a"/>
<path d="M1289.2,616.7L1369.6,616.2M1289.2,666.5L1369.6,664.6" stroke="#808285" stroke-width="3" stroke-linecap="round" fill="none"/>
<path d="M1289.2,556L1369.6,628M1289.2,592.1L1369.6,641.1M1289.2,631.4L1369.6,593.1M1289.2,645L1369.6,674.3M1289.2,667.3L1369.6,659.4" stroke="#231f20" stroke-width="5" stroke-linecap="round" fill="none"/>
<rect x="1537.5" y="54.8" width="360.2" height="287.2" fill="none" stroke="#414042" stroke-width="2.8"/>
<path d="M1537.5,54.8L1564.8,81.4M1582.5,54.8L1602.1,78.1M1627.5,54.8L1640,74.7M1672.5,54.8L1678.9,71.1M1717.5,54.8L1719.1,67.9M1762.5,54.8L1760.3,66M1807.5,54.8L1801.4,65.7M1852.5,54.8L1841,66.2M1897.5,54.8L1879.2,66.7M1537.5,112.2L1561.8,129.2M1582.5,112.2L1598.8,125.9M1627.5,112.2L1636.4,122.1M1672.5,112.2L1675.6,117.8M1717.5,112.2L1717.7,113.7M1762.5,112.2L1762.3,112.7M1807.5,112.2L1804.4,114.9M1852.5,112.2L1843,116.7M1897.5,112.2L1880,117.1M1537.5,169.7L1558.7,178.3M1582.5,169.7L1595.1,175.4M1627.5,169.7L1631.8,172.1M1672.5,169.7L1669.7,167.3M1807.5,169.7L1807.1,169.7M1852.5,169.7L1843.3,169.6M1897.5,169.7L1879.3,168.4M1537.5,227.1L1556.3,228.8M1582.5,227.1L1592.3,227.5M1627.5,227.1L1628.4,227.1M1762.5,227.1L1766,230M1807.5,227.1L1803.9,225.2M1852.5,227.1L1840.6,221.9M1897.5,227.1L1876.9,219.1M1537.5,284.6L1555.4,280M1582.5,284.6L1592.3,280.3M1627.5,284.6L1630.7,282M1672.5,284.6L1672.5,284.5M1717.5,284.6L1717.4,283.9M1762.5,284.6L1759.9,279.8M1807.5,284.6L1799.1,275.4M1852.5,284.6L1836.8,271.5M1897.5,284.6L1873.8,268.2M1537.5,342L1556.1,330.5M1582.5,342L1594.2,330.9M1627.5,342L1633.8,331.6M1672.5,342L1674.8,331.5M1717.5,342L1716.2,329.6M1762.5,342L1756.5,326.5M1807.5,342L1795.5,322.9M1852.5,342L1833.4,319.4M1897.5,342L1870.8,316.1" stroke="#5bb947" stroke-width="2.8" stroke-linecap="round" fill="none"/>
<path d="M1576.7,93L1557.2,85.2L1564.8,81.4L1568.4,73.7ZM1612.8,90.8L1594.2,81.1L1602.1,78.1L1606.4,70.8ZM1648.9,88.7L1631.7,76.6L1640,74.7L1645.3,68ZM1684.9,86.5L1670.4,71.4L1678.9,71.1L1685.3,65.6ZM1721,84.4L1710.8,66.1L1719.1,67.9L1726.7,64.2ZM1757.1,82.2L1753,61.7L1760.3,66L1768.7,64.8ZM1793.2,80.1L1795.8,59.3L1801.4,65.7L1809.7,67.2ZM1829.3,78L1837.4,58.6L1841,66.2L1848.7,69.9ZM1865.3,75.8L1877.2,58.5L1879.2,66.7L1886,71.9ZM1575.4,138.7L1554.9,134.2L1561.8,129.2L1564.1,121.1ZM1611.5,136.6L1591.5,130.2L1598.8,125.9L1601.8,118ZM1647.6,134.4L1628.6,125.4L1636.4,122.1L1640.5,114.7ZM1683.6,132.3L1667.2,119.2L1675.6,117.8L1681.2,111.4ZM1719.7,130.1L1709.4,111.9L1717.7,113.7L1725.3,109.9ZM1755.8,128L1756,107L1762.3,112.7L1770.8,113.3ZM1791.9,125.8L1801.3,107.1L1804.4,114.9L1811.8,119.1ZM1828,123.7L1842.2,108.2L1843,116.7L1848.9,122.7ZM1864,121.5L1880.6,108.6L1880,117.1L1884.9,124.1ZM1574.1,184.5L1553.1,184.6L1558.7,178.3L1559.1,169.8ZM1610.2,182.3L1589.2,181.5L1595.1,175.4L1595.9,167ZM1646.3,180.2L1625.4,177.7L1631.8,172.1L1633.2,163.7ZM1682.3,178L1662.4,171.6L1669.7,167.3L1672.7,159.4ZM1718.4,175.9L1707.7,157.9L1716,159.5L1723.5,155.5ZM1754.5,173.7L1768.2,157.8L1769.3,166.2L1775.4,172.1ZM1790.6,171.6L1809,161.5L1807.1,169.7L1810.8,177.4ZM1826.7,169.4L1846.1,161.6L1843.3,169.6L1846,177.6ZM1862.7,167.3L1882.6,160.6L1879.3,168.4L1881.5,176.6ZM1572.8,230.2L1552.8,236.5L1556.3,228.8L1554.2,220.6ZM1608.9,228.1L1589.2,235.4L1592.3,227.5L1589.8,219.4ZM1645,225.9L1626.2,235.2L1628.4,227.1L1625.1,219.3ZM1681,223.8L1665.9,238.3L1665.6,229.8L1660.1,223.4ZM1717.1,221.6L1726.4,240.4L1718.3,238.2L1710.5,241.5ZM1753.2,219.5L1773.3,225.6L1766,230L1763.1,238ZM1789.3,217.3L1810.2,219.5L1803.9,225.2L1802.6,233.6ZM1825.4,215.2L1846.3,215.7L1840.6,221.9L1839.9,230.3ZM1861.4,213L1882.4,212.6L1876.9,219.1L1876.6,227.5ZM1571.5,276L1554.7,288.5L1555.4,280L1550.7,273ZM1607.6,273.8L1592.9,288.8L1592.3,280.3L1586.6,274.1ZM1643.7,271.7L1633.5,290L1630.7,282L1623.5,277.5ZM1679.7,269.5L1678.5,290.5L1672.5,284.5L1664.1,283.5ZM1715.8,267.4L1725.7,285.9L1717.4,283.9L1709.7,287.4ZM1751.9,265.2L1768.2,278.4L1759.9,279.8L1754.2,286.1ZM1788,263.1L1806.9,272L1799.1,275.4L1795.1,282.8ZM1824.1,260.9L1844.1,267.2L1836.8,271.5L1833.9,279.5ZM1860.1,258.8L1880.6,263.2L1873.8,268.2L1871.6,276.4ZM1570.2,321.7L1557.9,338.7L1556.1,330.5L1549.5,325.1ZM1606.3,319.6L1597.7,338.7L1594.2,330.9L1586.7,327.1ZM1642.4,317.4L1639.2,338.1L1633.8,331.6L1625.5,329.9ZM1678.4,315.2L1682,335.9L1674.8,331.5L1666.4,332.5ZM1714.5,313.1L1724.5,331.6L1716.2,329.6L1708.6,333.2ZM1750.6,310.9L1765,326.2L1756.5,326.5L1750.1,331.9ZM1786.7,308.8L1803.8,321L1795.5,322.9L1790.2,329.5ZM1822.8,306.6L1841.4,316.3L1833.4,319.4L1829.1,326.6ZM1858.8,304.5L1878.3,312.3L1870.8,316.1L1867.2,323.7Z" fill="#5bb947"/>
<rect x="1537.3" y="518" width="359.8" height="287.5" fill="none" stroke="#414042" stroke-width="2.8"/>
<path d="M1537.3,518L1543.6,523.6M1582.3,518L1585.8,522M1627.3,518L1628.6,520.2M1672.2,518L1672.3,518.3M1717.2,518L1717.2,516.9M1762.2,518L1762.7,516.9M1807.2,518L1807.2,518M1852.2,518L1850.4,519.2M1897.1,518L1892.7,520M1537.3,575.5L1542.5,578.8M1582.3,575.5L1584.5,577.2M1627.3,575.5L1627,575.2M1807.2,575.5L1809.3,574.3M1852.2,575.5L1851.7,575.6M1897.1,575.5L1893.5,576.2M1537.3,633L1541.5,634.5M1582.3,633L1583,633.3M1627.3,633L1624.8,631.8M1852.2,633L1852.2,633M1897.1,633L1893.6,632.7M1537.3,690.5L1540.9,690.9M1582.3,690.5L1582.2,690.5M1807.2,690.5L1809.7,691.7M1852.2,690.5L1851.5,690.2M1897.1,690.5L1893,689.1M1537.3,748L1540.9,747.4M1582.3,748L1582.7,747.9M1627.3,748L1625,749.3M1807.2,748L1807.6,748.4M1852.2,748L1850.1,746.4M1897.1,748L1892,744.8M1537.3,805.5L1541.7,803.6M1582.3,805.5L1584,804.4M1627.3,805.5L1627.2,805.6M1672.2,805.5L1671.7,806.8M1717.2,805.5L1717.2,806.8M1762.2,805.5L1762.2,805.4M1807.2,805.5L1805.9,803.5M1852.2,805.5L1848.7,801.6M1897.1,805.5L1890.9,800" stroke="#5bb947" stroke-width="2.4" stroke-linecap="round" fill="none"/>
<path d="M1551.5,530.8L1538.7,526.3L1543.6,523.6L1545.7,518.6ZM1592.9,530L1580.7,524.1L1585.8,522L1588.5,517.2ZM1634.4,529.2L1623.3,521.4L1628.6,520.2L1632.1,515.9ZM1675.8,528.4L1666.8,518.3L1672.3,518.3L1676.7,514.9ZM1717.2,527.6L1712,515.1L1717.2,516.9L1722.4,515.1ZM1758.6,526.8L1758.5,513.3L1762.7,516.9L1768.1,517.2ZM1800.1,526L1804.5,513.2L1807.2,518L1812.3,520.1ZM1841.5,525.2L1849,513.9L1850.4,519.2L1854.8,522.5ZM1882.9,524.4L1892.2,514.5L1892.7,520L1896.5,524ZM1551.5,584.5L1538.2,582.2L1542.5,578.8L1543.7,573.4ZM1592.9,583.7L1579.9,580.2L1584.5,577.2L1586.2,572ZM1634.4,582.9L1622,577.5L1627,575.2L1629.5,570.3ZM1675.8,582.1L1665.3,573.6L1670.7,572.7L1674.4,568.6ZM1717.2,581.3L1712,568.8L1717.2,570.6L1722.4,568.8ZM1758.6,580.5L1761.6,567.3L1764.8,571.8L1770.1,573.3ZM1800.1,579.7L1808.2,568.9L1809.3,574.3L1813.5,577.8ZM1841.5,578.9L1851.8,570.1L1851.7,575.6L1855,580.1ZM1882.9,578.1L1894.3,570.7L1893.5,576.2L1896.2,581ZM1551.5,638.2L1538,638.8L1541.5,634.5L1541.6,629ZM1592.9,637.4L1579.4,637.4L1583,633.3L1583.4,627.8ZM1634.4,636.6L1620.9,635.6L1624.8,631.8L1625.6,626.3ZM1675.8,635.8L1662.8,632.1L1667.4,629.2L1669.2,624ZM1717.2,635L1712,622.5L1717.2,624.3L1722.4,622.5ZM1758.6,634.2L1768.8,625.3L1768.8,630.8L1772.2,635.1ZM1800.1,633.4L1812.3,627.5L1810.8,632.8L1812.9,637.9ZM1841.5,632.6L1854.2,627.9L1852.2,633L1853.8,638.3ZM1882.9,631.8L1895.8,627.7L1893.6,632.7L1895,638ZM1551.5,691.9L1538.6,695.8L1540.9,690.9L1539.6,685.5ZM1592.9,691.1L1580.2,695.6L1582.2,690.5L1580.7,685.2ZM1634.4,690.3L1622,695.8L1623.7,690.6L1621.7,685.5ZM1675.8,689.5L1665.2,697.9L1665.5,692.4L1662.3,687.9ZM1717.2,688.7L1722.4,701.2L1717.2,699.4L1712,701.2ZM1758.6,687.9L1771.8,691.1L1767.3,694.2L1765.7,699.5ZM1800.1,687.1L1813.6,687.8L1809.7,691.7L1809.1,697.2ZM1841.5,686.3L1855,686L1851.5,690.2L1851.2,695.7ZM1882.9,685.5L1896.5,684.7L1893,689.1L1893,694.6ZM1551.5,745.6L1540,752.8L1540.9,747.4L1538.3,742.6ZM1592.9,744.8L1582.5,753.4L1582.7,747.9L1579.5,743.4ZM1634.4,744L1626,754.7L1625,749.3L1620.9,745.6ZM1675.8,743.2L1672.5,756.3L1669.4,751.8L1664.2,750.2ZM1717.2,742.4L1722.4,754.9L1717.2,753.1L1712,754.9ZM1758.6,741.6L1769.3,750L1763.8,751L1760.2,755.1ZM1800.1,740.8L1812.6,746L1807.6,748.4L1805.2,753.4ZM1841.5,740L1854.6,743.3L1850.1,746.4L1848.4,751.7ZM1882.9,739.2L1896.3,741.4L1892,744.8L1890.8,750.2ZM1551.5,799.3L1542.1,809.1L1541.7,803.6L1538,799.5ZM1592.9,798.5L1585.3,809.7L1584,804.4L1579.6,801ZM1634.4,797.7L1629.8,810.4L1627.2,805.6L1622.1,803.4ZM1675.8,796.9L1675.8,810.4L1671.7,806.8L1666.2,806.5ZM1717.2,796.1L1722.4,808.6L1717.2,806.8L1712,808.6ZM1758.6,795.3L1767.7,805.4L1762.2,805.4L1757.8,808.8ZM1800.1,794.5L1811.2,802.2L1805.9,803.5L1802.5,807.8ZM1841.5,793.7L1853.7,799.5L1848.7,801.6L1846,806.5ZM1882.9,792.9L1895.7,797.3L1890.9,800L1888.8,805.1Z" fill="#5bb947"/>
<text x="1495.8" y="65.7" font-size="28" fill="#231f20" textLength="32.08" lengthAdjust="spacingAndGlyphs">16</text>
<text x="1485.2" y="343.5" font-size="28" fill="#231f20" textLength="43.47" lengthAdjust="spacingAndGlyphs">-16</text>
<text x="1528.4" y="370.7" font-size="28" fill="#231f20" textLength="42.14" lengthAdjust="spacingAndGlyphs">-20</text>
<text x="1868.6" y="370.5" font-size="28" fill="#231f20" textLength="30.93" lengthAdjust="spacingAndGlyphs">20</text>
<text x="1593.4" y="384" font-size="33" fill="#231f20" textLength="261.15" lengthAdjust="spacingAndGlyphs">Hor. Position (cm)</text>
<text transform="translate(1510.7,292.3) rotate(-90)" font-size="33" fill="#231f20" textLength="193.07" lengthAdjust="spacingAndGlyphs">Vert. Position</text>
<path d="M1679,435.5H1718" stroke="#231f20" stroke-width="3.2"/>
<path d="M1734.2,435.5L1715.4,427.8L1715.4,443.2Z" fill="#231f20"/>
<text x="1677.8" y="468" font-size="29" fill="#231f20" textLength="109.13" lengthAdjust="spacingAndGlyphs">0.2 cm/s</text>
</svg>
</body></html>
